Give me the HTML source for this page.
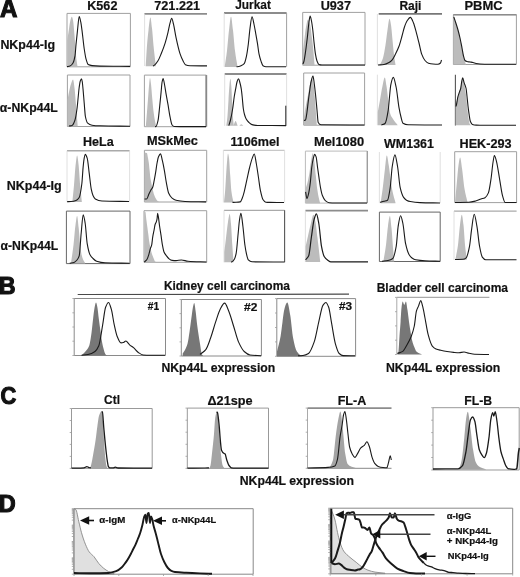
<!DOCTYPE html>
<html><head><meta charset="utf-8"><style>
html,body{margin:0;padding:0;background:#fff;}
svg{display:block;will-change:transform;}
text{font-family:"Liberation Sans",sans-serif;font-weight:bold;stroke:#111;stroke-width:0.2px;paint-order:stroke;}
</style></head><body>
<svg width="520" height="577" viewBox="0 0 520 577">
<rect width="520" height="577" fill="#fff"/>
<line x1="67" y1="13.4" x2="130.4" y2="13.4" stroke="#a0a0a0" stroke-width="1"/>
<line x1="67" y1="66.8" x2="130.4" y2="66.8" stroke="#a0a0a0" stroke-width="1"/>
<line x1="67" y1="13.4" x2="67" y2="66.8" stroke="#a0a0a0" stroke-width="1"/>
<line x1="130.4" y1="13.4" x2="130.4" y2="66.8" stroke="#a0a0a0" stroke-width="1"/>
<line x1="144.4" y1="13.8" x2="207" y2="13.8" stroke="#8c8c8c" stroke-width="1.8"/>
<line x1="144.6" y1="13.8" x2="144.6" y2="66" stroke="#d8d8d8" stroke-width="0.8"/>
<line x1="224" y1="13" x2="286.6" y2="13" stroke="#8c8c8c" stroke-width="1.8"/>
<line x1="286.6" y1="13" x2="286.6" y2="66.8" stroke="#a0a0a0" stroke-width="1"/>
<line x1="224.2" y1="13" x2="224.2" y2="66.8" stroke="#d8d8d8" stroke-width="0.8"/>
<line x1="302.7" y1="12.4" x2="365" y2="12.4" stroke="#a0a0a0" stroke-width="1"/>
<line x1="302.7" y1="65.2" x2="365" y2="65.2" stroke="#a0a0a0" stroke-width="1"/>
<line x1="302.7" y1="12.4" x2="302.7" y2="65.2" stroke="#a0a0a0" stroke-width="1"/>
<line x1="365" y1="12.4" x2="365" y2="65.2" stroke="#a0a0a0" stroke-width="1"/>
<line x1="378.7" y1="13.8" x2="442" y2="13.8" stroke="#777" stroke-width="1.8"/>
<line x1="377.4" y1="14" x2="377.4" y2="65.2" stroke="#d8d8d8" stroke-width="0.8"/>
<line x1="453.4" y1="14.7" x2="516.4" y2="14.7" stroke="#a0a0a0" stroke-width="1"/>
<line x1="453.4" y1="64.5" x2="516.4" y2="64.5" stroke="#a0a0a0" stroke-width="1"/>
<line x1="453.4" y1="14.7" x2="453.4" y2="64.5" stroke="#a0a0a0" stroke-width="1"/>
<line x1="516.4" y1="14.7" x2="516.4" y2="64.5" stroke="#a0a0a0" stroke-width="1"/>
<line x1="453.4" y1="14.7" x2="516.4" y2="14.7" stroke="#8c8c8c" stroke-width="1.6"/>
<path d="M67.20,40.51 C67.63,37.79 68.07,35.18 68.50,32.36 C69.00,29.10 69.50,24.27 70.00,22.16 C70.60,19.64 71.20,16.76 71.80,16.76 C72.20,16.76 72.60,18.40 73.00,20.13 C73.50,22.28 74.00,29.59 74.50,35.41 C75.00,41.24 75.50,51.12 76.00,55.80 C76.50,60.47 77.00,62.93 77.50,66.50 L77.50,66.90 L67.20,66.90 Z" fill="#bcbcbc"/>
<path d="M67.00,66.60 C68.00,66.43 69.00,66.38 70.00,66.09 C71.00,65.80 72.00,64.68 73.00,63.03 C73.67,61.93 74.33,59.71 75.00,55.88 C75.33,53.96 75.67,48.10 76.00,44.65 C76.50,39.46 77.00,34.74 77.50,30.35 C78.07,25.38 78.63,16.57 79.20,16.57 C79.73,16.57 80.27,19.67 80.80,22.18 C81.20,24.06 81.60,27.38 82.00,30.35 C82.73,35.80 83.47,43.81 84.20,48.73 C84.80,52.76 85.40,56.80 86.00,58.94 C86.73,61.56 87.47,64.17 88.20,64.56 C89.47,65.22 90.73,65.44 92.00,65.58 C94.67,65.88 97.33,66.03 100.00,66.09 C110.00,66.29 120.00,66.29 130.00,66.40" fill="none" stroke="#1a1a1a" stroke-width="1.1" stroke-linejoin="round"/>
<path d="M145.70,65.80 C146.13,59.03 146.57,50.85 147.00,45.49 C147.50,39.30 148.00,34.33 148.50,30.25 C149.13,25.08 149.77,17.46 150.40,17.46 C150.93,17.46 151.47,23.68 152.00,28.22 C152.50,32.48 153.00,40.44 153.50,45.49 C154.27,53.22 155.03,59.03 155.80,65.80 L155.80,66.20 L145.70,66.20 Z" fill="#bcbcbc"/>
<path d="M153.00,65.90 C153.50,65.63 154.00,65.44 154.50,65.09 C155.67,64.25 156.83,62.66 158.00,60.81 C159.07,59.12 160.13,56.29 161.20,53.69 C162.53,50.44 163.87,47.04 165.20,42.80 C166.13,39.83 167.07,36.19 168.00,32.32 C168.67,29.56 169.33,25.53 170.00,23.16 C170.57,21.15 171.13,18.18 171.70,18.18 C172.30,18.18 172.90,21.75 173.50,24.18 C174.33,27.55 175.17,33.53 176.00,37.41 C177.33,43.60 178.67,49.74 180.00,53.69 C181.00,56.65 182.00,58.91 183.00,60.81 C183.80,62.34 184.60,64.34 185.40,64.68 C186.93,65.33 188.47,65.65 190.00,65.70 C195.67,65.85 201.33,65.83 207.00,65.90" fill="none" stroke="#1a1a1a" stroke-width="1.1" stroke-linejoin="round"/>
<path d="M224.70,66.60 C225.47,61.32 226.23,57.10 227.00,50.77 C227.67,45.27 228.33,35.79 229.00,30.35 C229.67,24.92 230.33,16.78 231.00,16.78 C231.67,16.78 232.33,24.92 233.00,30.35 C233.67,35.79 234.33,45.52 235.00,50.77 C235.83,57.34 236.67,61.32 237.50,66.60 L237.50,67.00 L224.70,67.00 Z" fill="#bcbcbc"/>
<path d="M236.50,66.80 C237.27,66.70 238.03,66.65 238.80,66.50 C239.53,66.35 240.27,66.02 241.00,65.68 C242.07,65.18 243.13,64.82 244.20,63.63 C244.97,62.78 245.73,59.38 246.50,55.96 C247.10,53.28 247.70,48.91 248.30,44.30 C248.87,39.95 249.43,32.42 250.00,28.34 C250.67,23.54 251.33,16.78 252.00,16.78 C252.67,16.78 253.33,21.30 254.00,24.25 C254.57,26.76 255.13,30.22 255.70,33.35 C256.30,36.68 256.90,39.94 257.50,43.69 C258.00,46.81 258.50,51.53 259.00,53.91 C259.67,57.09 260.33,59.21 261.00,61.07 C261.67,62.94 262.33,65.26 263.00,65.68 C264.00,66.30 265.00,66.70 266.00,66.70 C272.67,66.70 279.33,66.70 286.00,66.70" fill="none" stroke="#1a1a1a" stroke-width="1.1" stroke-linejoin="round"/>
<path d="M303.00,50.00 C303.50,46.00 304.00,41.83 304.50,38.00 C305.00,34.17 305.50,29.54 306.00,27.00 C306.67,23.61 307.33,19.40 308.00,19.40 C308.67,19.40 309.33,21.69 310.00,24.00 C310.67,26.31 311.33,32.63 312.00,38.00 C312.50,42.03 313.00,46.55 313.50,52.00 C313.83,55.64 314.17,60.53 314.50,64.80 L314.50,65.00 L303.00,65.00 Z" fill="#bcbcbc"/>
<path d="M303.00,64.00 C303.33,63.00 303.67,62.30 304.00,61.00 C304.50,59.04 305.00,55.39 305.50,52.00 C306.13,47.70 306.77,42.44 307.40,37.00 C307.93,32.42 308.47,25.62 309.00,22.00 C309.37,19.51 309.73,16.00 310.10,16.00 C310.57,16.00 311.03,18.79 311.50,21.00 C311.93,23.05 312.37,26.45 312.80,30.00 C313.20,33.28 313.60,38.37 314.00,42.00 C314.50,46.54 315.00,51.53 315.50,54.40 C316.00,57.27 316.50,59.68 317.00,61.00 C317.63,62.67 318.27,64.30 318.90,64.50 C319.93,64.83 320.97,65.00 322.00,65.00 C336.33,65.00 350.67,65.00 365.00,65.00" fill="none" stroke="#1a1a1a" stroke-width="1.1" stroke-linejoin="round"/>
<path d="M380.00,64.80 C381.00,62.53 382.00,61.20 383.00,58.00 C383.83,55.34 384.67,50.15 385.50,45.00 C386.17,40.88 386.83,34.30 387.50,30.00 C388.17,25.70 388.83,18.70 389.50,18.70 C390.00,18.70 390.50,22.04 391.00,25.00 C391.50,27.96 392.00,35.00 392.50,40.00 C393.00,45.00 393.50,51.05 394.00,55.00 C394.50,58.95 395.00,61.53 395.50,64.80 L395.50,65.00 L380.00,65.00 Z" fill="#bcbcbc"/>
<path d="M378.00,65.00 C380.00,64.83 382.00,64.78 384.00,64.50 C385.67,64.27 387.33,63.43 389.00,62.50 C390.07,61.91 391.13,61.01 392.20,59.80 C393.30,58.55 394.40,56.15 395.50,54.00 C396.67,51.72 397.83,49.45 399.00,46.30 C400.00,43.60 401.00,39.57 402.00,36.00 C402.77,33.27 403.53,29.75 404.30,27.50 C405.20,24.86 406.10,22.34 407.00,21.00 C408.13,19.31 409.27,17.40 410.40,17.40 C411.43,17.40 412.47,20.55 413.50,23.00 C414.47,25.29 415.43,29.38 416.40,32.90 C417.27,36.05 418.13,39.56 419.00,43.00 C419.93,46.71 420.87,51.96 421.80,54.40 C422.87,57.19 423.93,59.32 425.00,60.50 C426.17,61.79 427.33,62.85 428.50,63.20 C430.00,63.65 431.50,63.90 433.00,64.00 C434.67,64.11 436.33,64.20 438.00,64.20 C438.83,64.20 439.67,63.77 440.50,63.00 C440.83,62.69 441.17,61.00 441.50,60.00" fill="none" stroke="#1a1a1a" stroke-width="1.1" stroke-linejoin="round"/>
<path d="M453.60,17.00 C454.23,18.67 454.87,20.18 455.50,22.00 C456.33,24.40 457.17,27.02 458.00,30.00 C458.67,32.38 459.33,35.04 460.00,38.00 C460.67,40.96 461.33,44.55 462.00,48.00 C462.50,50.58 463.00,53.71 463.50,56.00 C464.00,58.29 464.50,60.57 465.00,62.00 C465.33,62.96 465.67,63.53 466.00,64.30 L466.00,64.50 L453.60,64.50 Z" fill="#bcbcbc"/>
<path d="M453.80,17.00 C454.37,18.67 454.93,20.27 455.50,22.00 C456.33,24.55 457.17,27.02 458.00,30.00 C458.67,32.38 459.33,35.04 460.00,38.00 C460.67,40.96 461.33,44.55 462.00,48.00 C462.50,50.58 463.00,54.08 463.50,56.00 C464.00,57.92 464.50,60.06 465.00,60.50 C465.67,61.09 466.33,61.33 467.00,61.50 C468.00,61.76 469.00,61.83 470.00,62.00 C471.00,62.17 472.00,62.28 473.00,62.50 C474.00,62.72 475.00,63.31 476.00,63.50 C477.33,63.75 478.67,63.95 480.00,64.00 C483.33,64.13 486.67,64.18 490.00,64.20 C498.67,64.26 507.33,64.27 516.00,64.30" fill="none" stroke="#1a1a1a" stroke-width="1.1" stroke-linejoin="round"/>
<line x1="67.4" y1="75" x2="130" y2="75" stroke="#a0a0a0" stroke-width="1"/>
<line x1="67.4" y1="126.5" x2="130" y2="126.5" stroke="#a0a0a0" stroke-width="1"/>
<line x1="67.4" y1="75" x2="67.4" y2="126.5" stroke="#a0a0a0" stroke-width="1"/>
<line x1="130" y1="75" x2="130" y2="126.5" stroke="#a0a0a0" stroke-width="1"/>
<line x1="144.4" y1="75.1" x2="206.3" y2="75.1" stroke="#a0a0a0" stroke-width="1"/>
<line x1="144.4" y1="126.7" x2="206.3" y2="126.7" stroke="#a0a0a0" stroke-width="1"/>
<line x1="144.4" y1="75.1" x2="144.4" y2="126.7" stroke="#a0a0a0" stroke-width="1"/>
<line x1="206.3" y1="75.1" x2="206.3" y2="126.7" stroke="#a0a0a0" stroke-width="1"/>
<line x1="206.3" y1="75.1" x2="206.3" y2="126.7" stroke="#888" stroke-width="1.8"/>
<line x1="224.7" y1="74" x2="286.6" y2="74" stroke="#8c8c8c" stroke-width="1.8"/>
<line x1="286.6" y1="74" x2="286.6" y2="125.9" stroke="#d8d8d8" stroke-width="0.8"/>
<line x1="224.7" y1="74" x2="224.7" y2="125.9" stroke="#d8d8d8" stroke-width="0.8"/>
<line x1="303.7" y1="73" x2="364.6" y2="73" stroke="#a0a0a0" stroke-width="1"/>
<line x1="303.7" y1="125.2" x2="364.6" y2="125.2" stroke="#a0a0a0" stroke-width="1"/>
<line x1="303.7" y1="73" x2="303.7" y2="125.2" stroke="#a0a0a0" stroke-width="1"/>
<line x1="364.6" y1="73" x2="364.6" y2="125.2" stroke="#a0a0a0" stroke-width="1"/>
<line x1="377.4" y1="74.7" x2="377.4" y2="125.2" stroke="#d8d8d8" stroke-width="0.8"/>
<line x1="455.4" y1="74.7" x2="455.4" y2="125.4" stroke="#555" stroke-width="1.1"/>
<path d="M67.50,100.00 C68.00,97.33 68.50,94.30 69.00,92.00 C69.67,88.93 70.33,85.89 71.00,84.00 C71.67,82.11 72.33,79.60 73.00,79.60 C73.50,79.60 74.00,84.25 74.50,88.00 C75.00,91.75 75.50,99.09 76.00,105.00 C76.57,111.69 77.13,119.00 77.70,126.00 L77.70,126.30 L67.50,126.30 Z" fill="#bcbcbc"/>
<path d="M69.00,126.00 C70.00,125.83 71.00,125.81 72.00,125.50 C73.00,125.19 74.00,122.86 75.00,120.00 C75.67,118.09 76.33,113.67 77.00,108.80 C77.40,105.88 77.80,100.91 78.20,97.00 C78.53,93.75 78.87,89.71 79.20,87.30 C79.57,84.65 79.93,82.03 80.30,81.00 C80.70,79.88 81.10,78.80 81.50,78.80 C81.77,78.80 82.03,80.47 82.30,82.00 C82.53,83.33 82.77,86.33 83.00,88.80 C83.40,93.03 83.80,98.39 84.20,103.00 C84.60,107.61 85.00,114.53 85.40,116.50 C86.17,120.28 86.93,122.54 87.70,123.20 C89.13,124.44 90.57,125.00 92.00,125.20 C94.67,125.57 97.33,125.72 100.00,125.80 C110.00,126.11 120.00,126.13 130.00,126.30" fill="none" stroke="#1a1a1a" stroke-width="1.1" stroke-linejoin="round"/>
<path d="M145.80,126.50 C146.20,121.67 146.60,117.02 147.00,112.00 C147.43,106.56 147.87,100.46 148.30,95.00 C148.60,91.22 148.90,86.78 149.20,84.00 C149.47,81.53 149.73,78.00 150.00,78.00 C150.33,78.00 150.67,81.38 151.00,84.00 C151.40,87.14 151.80,93.68 152.20,98.00 C152.67,103.04 153.13,108.35 153.60,112.00 C154.07,115.65 154.53,118.62 155.00,121.00 C155.43,123.21 155.87,124.67 156.30,126.50 L156.30,126.60 L145.80,126.60 Z" fill="#bcbcbc"/>
<path d="M155.00,126.60 C155.33,126.57 155.67,126.56 156.00,126.50 C156.70,126.38 157.40,123.41 158.10,120.20 C158.60,117.91 159.10,111.86 159.60,107.20 C160.10,102.54 160.60,97.14 161.10,92.10 C161.43,88.74 161.77,83.73 162.10,82.00 C162.43,80.27 162.77,78.50 163.10,78.50 C163.60,78.50 164.10,82.47 164.60,85.00 C165.10,87.53 165.60,91.20 166.10,94.10 C166.77,97.97 167.43,101.36 168.10,105.20 C168.77,109.04 169.43,114.05 170.10,117.20 C170.77,120.35 171.43,124.19 172.10,125.00 C172.80,125.85 173.50,126.47 174.20,126.50 C176.13,126.58 178.07,126.60 180.00,126.60 C188.67,126.60 197.33,126.60 206.00,126.60" fill="none" stroke="#1a1a1a" stroke-width="1.1" stroke-linejoin="round"/>
<path d="M226.30,125.60 C226.67,122.73 227.03,120.81 227.40,117.00 C227.77,113.19 228.13,105.58 228.50,100.00 C228.83,94.93 229.17,88.16 229.50,85.00 C229.80,82.15 230.10,78.70 230.40,78.70 C230.70,78.70 231.00,82.54 231.30,86.00 C231.60,89.46 231.90,98.41 232.20,104.00 C232.47,108.97 232.73,114.72 233.00,118.00 C233.27,121.28 233.53,123.07 233.80,125.60 L233.80,125.70 L226.30,125.70 Z" fill="#bcbcbc"/>
<path d="M233.50,125.60 C234.20,124.07 234.90,121.00 235.60,121.00 C236.27,121.00 236.93,124.07 237.60,125.60 L237.60,125.70 L233.50,125.70 Z" fill="#bcbcbc"/>
<path d="M239.50,125.60 C240.10,125.17 240.70,124.30 241.30,124.30 C241.93,124.30 242.57,125.17 243.20,125.60 L243.20,125.70 L239.50,125.70 Z" fill="#bcbcbc"/>
<path d="M228.80,125.60 C229.37,123.73 229.93,122.27 230.50,120.00 C231.23,117.06 231.97,113.11 232.70,108.50 C233.20,105.35 233.70,100.22 234.20,97.00 C234.67,93.99 235.13,91.70 235.60,89.20 C236.07,86.70 236.53,83.44 237.00,82.00 C237.50,80.45 238.00,78.70 238.50,78.70 C239.00,78.70 239.50,81.20 240.00,83.00 C240.43,84.56 240.87,86.48 241.30,89.20 C241.63,91.29 241.97,94.81 242.30,98.00 C242.63,101.19 242.97,106.22 243.30,108.50 C243.70,111.24 244.10,113.09 244.50,114.50 C245.07,116.50 245.63,118.01 246.20,119.00 C247.13,120.63 248.07,121.66 249.00,122.50 C250.00,123.40 251.00,124.32 252.00,124.60 C253.90,125.12 255.80,125.48 257.70,125.50 C267.13,125.58 276.57,125.57 286.00,125.60" fill="none" stroke="#1a1a1a" stroke-width="1.1" stroke-linejoin="round"/>
<line x1="285.8" y1="105.7" x2="285.8" y2="125.9" stroke="#222" stroke-width="1.0"/>
<path d="M304.00,117.00 C304.67,113.00 305.33,108.64 306.00,105.00 C306.67,101.36 307.33,98.49 308.00,95.00 C308.67,91.51 309.33,86.51 310.00,84.00 C310.70,81.36 311.40,78.00 312.10,78.00 C312.57,78.00 313.03,81.16 313.50,84.00 C314.00,87.04 314.50,94.01 315.00,100.00 C315.60,107.19 316.20,116.53 316.80,124.80 L316.80,125.00 L304.00,125.00 Z" fill="#bcbcbc"/>
<path d="M304.00,120.50 C304.50,120.33 305.00,120.31 305.50,120.00 C306.00,119.69 306.50,115.31 307.00,112.00 C307.33,109.79 307.67,106.29 308.00,103.60 C308.50,99.56 309.00,95.58 309.50,92.00 C310.00,88.42 310.50,84.11 311.00,82.00 C311.67,79.19 312.33,76.00 313.00,76.00 C313.43,76.00 313.87,80.90 314.30,84.00 C314.70,86.86 315.10,90.45 315.50,94.20 C316.00,98.89 316.50,104.76 317.00,110.00 C317.40,114.19 317.80,121.81 318.20,122.50 C319.13,124.10 320.07,124.79 321.00,124.80 C335.50,124.99 350.00,124.93 364.50,125.00" fill="none" stroke="#1a1a1a" stroke-width="1.1" stroke-linejoin="round"/>
<path d="M377.80,112.00 C378.53,108.00 379.27,104.05 380.00,100.00 C380.83,95.40 381.67,89.73 382.50,86.00 C383.27,82.57 384.03,77.40 384.80,77.40 C385.37,77.40 385.93,82.51 386.50,86.00 C387.17,90.11 387.83,96.91 388.50,102.00 C389.00,105.82 389.50,111.32 390.00,113.00 C391.00,116.36 392.00,117.40 393.00,119.00 C394.53,121.46 396.07,123.00 397.60,125.00 L397.60,125.20 L377.80,125.20 Z" fill="#bcbcbc"/>
<path d="M381.40,125.00 C382.60,124.50 383.80,124.42 385.00,123.50 C386.07,122.68 387.13,117.05 388.20,110.40 C388.63,107.70 389.07,101.26 389.50,97.00 C389.93,92.74 390.37,86.86 390.80,84.80 C391.63,80.83 392.47,77.40 393.30,77.40 C394.27,77.40 395.23,82.95 396.20,87.50 C397.13,91.89 398.07,102.48 399.00,107.70 C399.67,111.43 400.33,114.52 401.00,117.00 C401.67,119.48 402.33,122.76 403.00,123.20 C404.67,124.29 406.33,124.77 408.00,124.80 C419.33,124.97 430.67,124.93 442.00,125.00" fill="none" stroke="#1a1a1a" stroke-width="1.1" stroke-linejoin="round"/>
<path d="M455.60,106.00 C456.23,103.33 456.87,100.29 457.50,98.00 C458.13,95.71 458.77,94.33 459.40,92.00 C459.93,90.03 460.47,86.88 461.00,85.00 C461.57,83.00 462.13,80.00 462.70,80.00 C463.30,80.00 463.90,83.41 464.50,86.00 C465.00,88.16 465.50,91.23 466.00,95.00 C466.43,98.27 466.87,104.07 467.30,108.00 C467.70,111.63 468.10,115.61 468.50,118.00 C468.93,120.58 469.37,123.29 469.80,124.00 C470.20,124.65 470.60,124.80 471.00,125.20 L471.00,125.30 L455.60,125.30 Z" fill="#bcbcbc"/>
<path d="M455.80,106.50 C456.00,106.00 456.20,105.66 456.40,105.00 C456.87,103.47 457.33,99.10 457.80,97.20 C458.30,95.16 458.80,93.89 459.30,92.40 C459.77,91.01 460.23,90.39 460.70,88.50 C461.03,87.15 461.37,83.35 461.70,81.70 C462.03,80.05 462.37,77.80 462.70,77.80 C463.17,77.80 463.63,81.27 464.10,82.70 C464.50,83.93 464.90,84.82 465.30,86.00 C465.57,86.78 465.83,87.29 466.10,88.50 C466.40,89.87 466.70,93.56 467.00,96.30 C467.33,99.35 467.67,103.14 468.00,106.00 C468.33,108.86 468.67,111.53 469.00,113.70 C469.47,116.74 469.93,120.39 470.40,121.50 C471.07,123.09 471.73,124.17 472.40,124.40 C473.70,124.85 475.00,125.04 476.30,125.10 C477.53,125.16 478.77,125.19 480.00,125.20 C486.67,125.27 493.33,125.30 500.00,125.30 C505.33,125.30 510.67,125.30 516.00,125.30" fill="none" stroke="#1a1a1a" stroke-width="1.1" stroke-linejoin="round"/>
<line x1="67" y1="150.7" x2="129.6" y2="150.7" stroke="#aaa" stroke-width="1.4"/>
<line x1="129.6" y1="150.7" x2="129.6" y2="201.8" stroke="#d8d8d8" stroke-width="0.8"/>
<line x1="67" y1="150.7" x2="67" y2="201.8" stroke="#d8d8d8" stroke-width="0.8"/>
<line x1="144.4" y1="150.3" x2="206.7" y2="150.3" stroke="#a0a0a0" stroke-width="1"/>
<line x1="144.4" y1="202" x2="206.7" y2="202" stroke="#a0a0a0" stroke-width="1"/>
<line x1="144.4" y1="150.3" x2="144.4" y2="202" stroke="#a0a0a0" stroke-width="1"/>
<line x1="206.7" y1="150.3" x2="206.7" y2="202" stroke="#a0a0a0" stroke-width="1"/>
<line x1="223.4" y1="150.3" x2="284.6" y2="150.3" stroke="#bbb" stroke-width="1"/>
<line x1="223.4" y1="150.3" x2="223.4" y2="202.5" stroke="#d8d8d8" stroke-width="0.8"/>
<line x1="284.6" y1="150.3" x2="284.6" y2="202.5" stroke="#d8d8d8" stroke-width="0.8"/>
<line x1="305.4" y1="151.1" x2="367.3" y2="151.1" stroke="#bbb" stroke-width="1"/>
<line x1="305.4" y1="203.1" x2="367.3" y2="203.1" stroke="#bbb" stroke-width="1"/>
<line x1="305.4" y1="151.1" x2="305.4" y2="203.1" stroke="#bbb" stroke-width="1"/>
<line x1="367.3" y1="151.1" x2="367.3" y2="203.1" stroke="#bbb" stroke-width="1"/>
<line x1="367.3" y1="151.1" x2="367.3" y2="203.1" stroke="#999" stroke-width="1.2"/>
<line x1="379.4" y1="152" x2="379.4" y2="203.1" stroke="#d8d8d8" stroke-width="0.8"/>
<line x1="440.2" y1="152" x2="440.2" y2="203.1" stroke="#d8d8d8" stroke-width="0.8"/>
<line x1="454.7" y1="151.7" x2="516.6" y2="151.7" stroke="#a0a0a0" stroke-width="1"/>
<line x1="454.7" y1="202.6" x2="516.6" y2="202.6" stroke="#a0a0a0" stroke-width="1"/>
<line x1="454.7" y1="151.7" x2="454.7" y2="202.6" stroke="#a0a0a0" stroke-width="1"/>
<line x1="516.6" y1="151.7" x2="516.6" y2="202.6" stroke="#a0a0a0" stroke-width="1"/>
<path d="M72.40,201.50 C72.93,196.07 73.47,191.20 74.00,185.20 C74.53,179.20 75.07,169.61 75.60,165.08 C76.10,160.84 76.60,155.43 77.10,155.43 C77.60,155.43 78.10,160.84 78.60,165.08 C79.13,169.61 79.67,179.20 80.20,185.20 C80.73,191.20 81.27,196.07 81.80,201.50 L81.80,201.90 L72.40,201.90 Z" fill="#bcbcbc"/>
<path d="M67.00,201.70 C68.33,201.63 69.67,201.60 71.00,201.50 C72.67,201.37 74.33,201.07 76.00,200.49 C77.07,200.12 78.13,199.26 79.20,197.56 C80.07,196.18 80.93,190.69 81.80,184.03 C82.27,180.44 82.73,170.97 83.20,166.35 C83.53,163.06 83.87,159.79 84.20,158.07 C84.53,156.35 84.87,154.33 85.20,154.33 C85.87,154.33 86.53,156.13 87.20,158.17 C87.87,160.21 88.53,168.05 89.20,173.12 C89.90,178.44 90.60,186.01 91.30,189.38 C91.87,192.11 92.43,194.20 93.00,195.44 C93.77,197.12 94.53,198.54 95.30,198.97 C97.53,200.24 99.77,200.90 102.00,200.99 C111.00,201.38 120.00,201.33 129.00,201.50" fill="none" stroke="#1a1a1a" stroke-width="1.1" stroke-linejoin="round"/>
<path d="M144.60,152.51 C145.37,152.68 146.13,152.66 146.90,153.02 C147.27,153.19 147.63,156.18 148.00,158.07 C148.27,159.45 148.53,160.81 148.80,162.72 C149.07,164.62 149.33,167.58 149.60,170.19 C149.83,172.47 150.07,175.67 150.30,177.36 C150.60,179.53 150.90,180.76 151.20,182.31 C151.53,184.03 151.87,185.65 152.20,187.16 C152.53,188.66 152.87,190.09 153.20,191.40 C153.53,192.70 153.87,194.11 154.20,195.03 C154.73,196.50 155.27,197.58 155.80,198.47 C156.40,199.46 157.00,200.37 157.60,200.89 C158.07,201.29 158.53,201.50 159.00,201.80 L159.00,202.10 L144.60,202.10 Z" fill="#bcbcbc"/>
<path d="M144.60,199.16 C145.37,198.99 146.13,198.97 146.90,198.66 C147.53,198.39 148.17,195.55 148.80,194.19 C149.47,192.76 150.13,191.40 150.80,190.24 C151.43,189.14 152.07,188.79 152.70,187.30 C153.20,186.12 153.70,182.93 154.20,180.40 C154.67,178.05 155.13,175.41 155.60,172.60 C156.10,169.59 156.60,165.34 157.10,162.76 C157.57,160.35 158.03,157.83 158.50,156.78 C159.17,155.28 159.83,153.84 160.50,153.84 C161.13,153.84 161.77,158.09 162.40,160.73 C163.07,163.51 163.73,166.90 164.40,170.57 C165.03,174.06 165.67,179.09 166.30,182.43 C167.10,186.65 167.90,191.49 168.70,193.28 C169.83,195.82 170.97,197.24 172.10,198.15 C173.40,199.19 174.70,199.97 176.00,200.28 C179.00,200.98 182.00,201.38 185.00,201.49 C192.00,201.76 199.00,201.76 206.00,201.90" fill="none" stroke="#1a1a1a" stroke-width="1.1" stroke-linejoin="round"/>
<path d="M224.00,202.40 C224.40,198.27 224.80,195.08 225.20,190.00 C225.57,185.34 225.93,177.37 226.30,172.00 C226.60,167.61 226.90,162.99 227.20,160.00 C227.47,157.35 227.73,153.60 228.00,153.60 C228.33,153.60 228.67,155.80 229.00,158.00 C229.40,160.64 229.80,169.56 230.20,175.00 C230.63,180.90 231.07,188.67 231.50,192.00 C232.17,197.12 232.83,198.93 233.50,202.40 L233.50,202.50 L224.00,202.50 Z" fill="#bcbcbc"/>
<path d="M232.50,202.40 C233.67,202.37 234.83,202.35 236.00,202.30 C237.40,202.24 238.80,202.18 240.20,201.90 C240.90,201.76 241.60,199.66 242.30,198.00 C242.93,196.49 243.57,194.18 244.20,191.80 C245.10,188.42 246.00,183.65 246.90,179.60 C247.80,175.55 248.70,171.03 249.60,167.50 C250.50,163.97 251.40,160.39 252.30,158.10 C252.97,156.40 253.63,154.00 254.30,154.00 C254.97,154.00 255.63,159.86 256.30,163.50 C257.00,167.32 257.70,172.41 258.40,177.00 C259.07,181.38 259.73,187.30 260.40,190.40 C261.30,194.59 262.20,198.53 263.10,199.80 C264.00,201.07 264.90,202.11 265.80,202.20 C267.20,202.34 268.60,202.38 270.00,202.40 C274.67,202.47 279.33,202.47 284.00,202.50" fill="none" stroke="#1a1a1a" stroke-width="1.1" stroke-linejoin="round"/>
<path d="M305.60,188.73 C306.23,186.69 306.87,185.10 307.50,182.61 C308.17,179.98 308.83,176.41 309.50,172.41 C310.07,169.01 310.63,163.32 311.20,160.18 C311.70,157.40 312.20,153.35 312.70,153.35 C313.20,153.35 313.70,157.10 314.20,160.18 C314.73,163.45 315.27,170.40 315.80,175.47 C316.27,179.91 316.73,185.36 317.20,188.73 C317.67,192.09 318.13,194.60 318.60,196.88 C319.07,199.17 319.53,200.82 320.00,202.80 L320.00,203.20 L305.60,203.20 Z" fill="#bcbcbc"/>
<path d="M305.60,191.86 C306.03,194.08 306.47,198.50 306.90,198.50 C307.53,198.50 308.17,195.30 308.80,192.58 C309.30,190.43 309.80,186.76 310.30,182.67 C310.77,178.85 311.23,171.32 311.70,167.75 C312.20,163.93 312.70,160.86 313.20,158.87 C313.70,156.88 314.20,154.37 314.70,154.37 C315.17,154.37 315.63,155.51 316.10,156.82 C316.60,158.23 317.10,164.16 317.60,167.75 C318.07,171.11 318.53,174.47 319.00,177.66 C319.50,181.08 320.00,184.99 320.50,187.57 C321.13,190.85 321.77,193.95 322.40,195.54 C323.37,197.98 324.33,199.72 325.30,200.55 C326.60,201.66 327.90,202.56 329.20,202.69 C331.13,202.89 333.07,203.00 335.00,203.00 C345.67,203.00 356.33,203.00 367.00,203.00" fill="none" stroke="#1a1a1a" stroke-width="1.1" stroke-linejoin="round"/>
<path d="M380.70,202.79 C381.47,197.22 382.23,192.19 383.00,186.08 C383.67,180.77 384.33,173.81 385.00,168.54 C385.60,163.80 386.20,155.54 386.80,155.54 C387.47,155.54 388.13,161.42 388.80,165.44 C389.47,169.47 390.13,176.40 390.80,180.92 C391.37,184.76 391.93,188.51 392.50,191.24 C393.50,196.05 394.50,198.94 395.50,202.79 L395.50,203.20 L380.70,203.20 Z" fill="#bcbcbc"/>
<path d="M380.00,202.27 C381.33,201.93 382.67,201.61 384.00,201.24 C385.17,200.92 386.33,200.88 387.50,200.20 C388.40,199.68 389.30,193.57 390.20,187.67 C390.87,183.30 391.53,170.97 392.20,166.75 C393.10,161.04 394.00,154.83 394.90,154.83 C395.80,154.83 396.70,161.61 397.60,166.75 C398.47,171.69 399.33,183.93 400.20,187.67 C401.33,192.56 402.47,195.79 403.60,197.41 C404.57,198.78 405.53,199.69 406.50,200.20 C407.77,200.87 409.03,201.32 410.30,201.55 C413.53,202.13 416.77,202.46 420.00,202.59 C426.67,202.84 433.33,202.86 440.00,203.00" fill="none" stroke="#1a1a1a" stroke-width="1.1" stroke-linejoin="round"/>
<path d="M455.00,202.30 C455.67,195.07 456.33,187.63 457.00,180.63 C457.50,175.38 458.00,168.61 458.50,165.31 C459.03,161.78 459.57,157.54 460.10,157.54 C460.73,157.54 461.37,164.15 462.00,168.37 C462.83,173.92 463.67,183.93 464.50,188.81 C465.50,194.66 466.50,197.80 467.50,202.30 L467.50,202.70 L455.00,202.70 Z" fill="#bcbcbc"/>
<path d="M455.00,202.50 C459.60,202.43 464.20,202.43 468.80,202.29 C471.07,202.23 473.33,201.63 475.60,201.06 C477.40,200.62 479.20,199.65 481.00,199.01 C482.33,198.54 483.67,198.41 485.00,197.68 C486.13,197.06 487.27,195.46 488.40,192.86 C489.27,190.86 490.13,184.67 491.00,179.01 C491.67,174.65 492.33,166.57 493.00,162.49 C493.47,159.63 493.93,155.51 494.40,155.51 C495.07,155.51 495.73,158.64 496.40,161.05 C497.53,165.15 498.67,173.92 499.80,180.34 C500.70,185.44 501.60,192.47 502.50,195.63 C503.40,198.79 504.30,202.50 505.20,202.50 C508.97,202.50 512.73,202.50 516.50,202.50" fill="none" stroke="#1a1a1a" stroke-width="1.1" stroke-linejoin="round"/>
<line x1="66.4" y1="211.1" x2="130" y2="211.1" stroke="#666" stroke-width="1"/>
<line x1="66.4" y1="263.6" x2="130" y2="263.6" stroke="#666" stroke-width="1"/>
<line x1="66.4" y1="211.1" x2="66.4" y2="263.6" stroke="#666" stroke-width="1"/>
<line x1="130" y1="211.1" x2="130" y2="263.6" stroke="#666" stroke-width="1"/>
<line x1="144" y1="210.7" x2="206.7" y2="210.7" stroke="#a0a0a0" stroke-width="1"/>
<line x1="144" y1="262.3" x2="206.7" y2="262.3" stroke="#a0a0a0" stroke-width="1"/>
<line x1="144" y1="210.7" x2="144" y2="262.3" stroke="#a0a0a0" stroke-width="1"/>
<line x1="206.7" y1="210.7" x2="206.7" y2="262.3" stroke="#a0a0a0" stroke-width="1"/>
<line x1="224" y1="210.3" x2="284.6" y2="210.3" stroke="#aaa" stroke-width="1.2"/>
<line x1="284.6" y1="210.3" x2="284.6" y2="262.3" stroke="#555" stroke-width="1.1"/>
<line x1="224" y1="210.3" x2="224" y2="262.3" stroke="#d8d8d8" stroke-width="0.8"/>
<line x1="305.4" y1="210.7" x2="368" y2="210.7" stroke="#8c8c8c" stroke-width="1.8"/>
<line x1="305.4" y1="210.7" x2="305.4" y2="262" stroke="#d8d8d8" stroke-width="0.8"/>
<line x1="379.4" y1="212.1" x2="440.2" y2="212.1" stroke="#666" stroke-width="1"/>
<line x1="379.4" y1="261.5" x2="440.2" y2="261.5" stroke="#666" stroke-width="1"/>
<line x1="379.4" y1="212.1" x2="379.4" y2="261.5" stroke="#666" stroke-width="1"/>
<line x1="440.2" y1="212.1" x2="440.2" y2="261.5" stroke="#666" stroke-width="1"/>
<line x1="454" y1="211.1" x2="516.6" y2="211.1" stroke="#aaa" stroke-width="1.4"/>
<line x1="454" y1="211.1" x2="454" y2="260" stroke="#d8d8d8" stroke-width="0.8"/>
<path d="M71.00,263.20 C71.83,257.13 72.67,252.06 73.50,245.00 C74.17,239.35 74.83,229.72 75.50,225.00 C76.03,221.23 76.57,216.10 77.10,216.10 C77.63,216.10 78.17,223.27 78.70,228.00 C79.30,233.33 79.90,243.83 80.50,248.00 C81.17,252.63 81.83,256.10 82.50,258.00 C83.40,260.56 84.30,261.47 85.20,263.20 L85.20,263.40 L71.00,263.40 Z" fill="#bcbcbc"/>
<path d="M69.70,263.20 C71.13,262.97 72.57,262.91 74.00,262.50 C75.00,262.22 76.00,261.18 77.00,260.00 C77.73,259.13 78.47,258.23 79.20,255.80 C79.87,253.59 80.53,239.77 81.20,233.00 C81.87,226.23 82.53,214.70 83.20,214.70 C83.87,214.70 84.53,219.41 85.20,223.50 C85.87,227.59 86.53,239.80 87.20,243.70 C88.10,248.97 89.00,252.72 89.90,254.50 C90.93,256.54 91.97,257.51 93.00,258.50 C94.20,259.65 95.40,260.80 96.60,261.20 C99.40,262.12 102.20,262.70 105.00,262.80 C113.17,263.08 121.33,263.07 129.50,263.20" fill="none" stroke="#1a1a1a" stroke-width="1.1" stroke-linejoin="round"/>
<path d="M144.20,211.50 C144.60,211.67 145.00,211.67 145.40,212.00 C145.73,212.27 146.07,217.44 146.40,220.00 C146.73,222.56 147.07,224.90 147.40,227.40 C147.73,229.90 148.07,232.44 148.40,235.00 C148.70,237.31 149.00,240.17 149.30,242.00 C149.63,244.04 149.97,245.38 150.30,247.00 C150.63,248.62 150.97,250.43 151.30,251.70 C151.70,253.22 152.10,254.38 152.50,255.50 C152.90,256.62 153.30,257.59 153.70,258.50 C154.17,259.56 154.63,260.95 155.10,261.40 C155.40,261.69 155.70,261.80 156.00,262.00 L156.00,262.20 L144.20,262.20 Z" fill="#bcbcbc"/>
<path d="M144.30,262.00 C145.17,261.17 146.03,260.74 146.90,259.50 C147.53,258.59 148.17,256.58 148.80,254.60 C149.30,253.04 149.80,250.42 150.30,248.80 C150.77,247.29 151.23,246.87 151.70,244.90 C152.03,243.49 152.37,239.19 152.70,237.10 C153.20,233.96 153.70,232.05 154.20,229.40 C154.50,227.81 154.80,225.47 155.10,224.50 C155.53,223.09 155.97,222.90 156.40,221.60 C156.63,220.90 156.87,220.13 157.10,218.70 C157.27,217.68 157.43,213.30 157.60,213.30 C157.90,213.30 158.20,215.90 158.50,217.70 C158.83,219.70 159.17,223.13 159.50,225.50 C160.00,229.06 160.50,231.85 161.00,235.20 C161.47,238.32 161.93,242.34 162.40,244.90 C162.90,247.65 163.40,250.46 163.90,251.70 C164.70,253.69 165.50,254.49 166.30,255.60 C167.10,256.71 167.90,257.88 168.70,258.50 C169.83,259.38 170.97,260.29 172.10,260.40 C173.40,260.52 174.70,260.60 176.00,260.60 C177.80,260.60 179.60,260.00 181.40,260.00 C183.60,260.00 185.80,261.03 188.00,261.20 C194.17,261.68 200.33,261.73 206.50,262.00" fill="none" stroke="#1a1a1a" stroke-width="1.1" stroke-linejoin="round"/>
<path d="M224.30,251.80 C224.87,247.20 225.43,242.57 226.00,238.00 C226.67,232.63 227.33,225.89 228.00,222.00 C228.57,218.69 229.13,214.10 229.70,214.10 C230.13,214.10 230.57,219.51 231.00,224.00 C231.43,228.49 231.87,238.46 232.30,245.00 C232.70,251.03 233.10,256.33 233.50,262.00 L233.50,262.20 L224.30,262.20 Z" fill="#bcbcbc"/>
<path d="M231.00,262.00 C231.33,261.93 231.67,261.90 232.00,261.80 C232.83,261.54 233.67,260.46 234.50,259.00 C235.07,258.01 235.63,255.99 236.20,253.10 C236.87,249.71 237.53,239.68 238.20,233.00 C238.63,228.66 239.07,222.79 239.50,220.00 C239.97,217.00 240.43,213.40 240.90,213.40 C241.57,213.40 242.23,221.12 242.90,226.20 C243.57,231.28 244.23,240.35 244.90,245.00 C245.43,248.72 245.97,251.80 246.50,254.00 C247.10,256.47 247.70,259.19 248.30,259.80 C249.53,261.04 250.77,261.78 252.00,261.80 C262.83,261.98 273.67,261.93 284.50,262.00" fill="none" stroke="#1a1a1a" stroke-width="1.1" stroke-linejoin="round"/>
<path d="M305.60,246.40 C306.40,242.93 307.20,239.49 308.00,236.00 C308.83,232.36 309.67,228.23 310.50,225.00 C311.50,221.13 312.50,214.70 313.50,214.70 C314.17,214.70 314.83,218.66 315.50,222.00 C316.17,225.34 316.83,232.45 317.50,238.00 C318.40,245.49 319.30,253.67 320.20,261.50 L320.20,261.90 L305.60,261.90 Z" fill="#bcbcbc"/>
<path d="M305.60,259.80 C306.63,258.47 307.67,258.09 308.70,255.80 C309.60,253.81 310.50,243.04 311.40,237.00 C312.30,230.96 313.20,222.69 314.10,219.50 C314.87,216.78 315.63,213.80 316.40,213.80 C317.20,213.80 318.00,219.15 318.80,223.50 C319.70,228.39 320.60,241.73 321.50,246.40 C322.40,251.07 323.30,254.98 324.20,256.50 C325.30,258.35 326.40,259.21 327.50,260.00 C328.67,260.84 329.83,261.90 331.00,261.90 C343.33,261.90 355.67,261.90 368.00,261.90" fill="none" stroke="#1a1a1a" stroke-width="1.2" stroke-linejoin="round"/>
<path d="M383.40,261.20 C384.27,255.80 385.13,251.58 386.00,245.00 C386.67,239.94 387.33,230.48 388.00,226.00 C388.63,221.75 389.27,216.10 389.90,216.10 C390.43,216.10 390.97,222.89 391.50,228.00 C392.00,232.79 392.50,241.99 393.00,248.00 C393.40,252.80 393.80,256.80 394.20,261.20 L394.20,261.40 L383.40,261.40 Z" fill="#bcbcbc"/>
<path d="M382.00,261.20 C384.00,260.97 386.00,260.87 388.00,260.50 C389.60,260.20 391.20,259.75 392.80,258.50 C393.93,257.61 395.07,252.62 396.20,246.40 C396.87,242.74 397.53,230.32 398.20,226.20 C399.00,221.26 399.80,215.70 400.60,215.70 C401.37,215.70 402.13,219.96 402.90,223.50 C403.80,227.66 404.70,239.62 405.60,243.70 C406.73,248.83 407.87,252.58 409.00,254.50 C410.00,256.19 411.00,257.30 412.00,258.00 C413.23,258.86 414.47,259.56 415.70,259.80 C418.80,260.40 421.90,260.66 425.00,260.80 C430.00,261.02 435.00,261.07 440.00,261.20" fill="none" stroke="#1a1a1a" stroke-width="1.1" stroke-linejoin="round"/>
<path d="M455.40,259.50 C456.27,254.67 457.13,251.28 458.00,245.00 C458.67,240.17 459.33,229.83 460.00,225.00 C460.60,220.65 461.20,214.70 461.80,214.70 C462.37,214.70 462.93,220.24 463.50,225.00 C464.00,229.20 464.50,239.94 465.00,245.00 C465.60,251.07 466.20,254.67 466.80,259.50 L466.80,259.80 L455.40,259.80 Z" fill="#bcbcbc"/>
<path d="M455.00,259.50 C457.67,259.43 460.33,259.45 463.00,259.30 C464.07,259.24 465.13,258.68 466.20,257.80 C467.30,256.90 468.40,251.91 469.50,246.40 C470.17,243.06 470.83,234.78 471.50,230.20 C472.40,224.01 473.30,214.30 474.20,214.30 C475.10,214.30 476.00,221.21 476.90,226.20 C477.80,231.19 478.70,241.74 479.60,246.40 C480.50,251.06 481.40,255.88 482.30,257.10 C483.43,258.64 484.57,259.80 485.70,259.80 C495.97,259.80 506.23,259.80 516.50,259.80" fill="none" stroke="#1a1a1a" stroke-width="1.1" stroke-linejoin="round"/>
<line x1="77.7" y1="294.5" x2="349" y2="294.2" stroke="#4a4a4a" stroke-width="1.2"/>
<line x1="74.2" y1="298.5" x2="165.5" y2="298.5" stroke="#8a8a8a" stroke-width="1"/>
<line x1="74.2" y1="355.5" x2="165.5" y2="355.5" stroke="#8a8a8a" stroke-width="1"/>
<line x1="74.2" y1="298.5" x2="74.2" y2="355.5" stroke="#8a8a8a" stroke-width="1"/>
<line x1="165.5" y1="298.5" x2="165.5" y2="355.5" stroke="#8a8a8a" stroke-width="1"/>
<line x1="181.3" y1="299.5" x2="261.4" y2="299.5" stroke="#8a8a8a" stroke-width="1"/>
<line x1="181.3" y1="356" x2="261.4" y2="356" stroke="#8a8a8a" stroke-width="1"/>
<line x1="181.3" y1="299.5" x2="181.3" y2="356" stroke="#8a8a8a" stroke-width="1"/>
<line x1="261.4" y1="299.5" x2="261.4" y2="356" stroke="#8a8a8a" stroke-width="1"/>
<line x1="276.8" y1="298.6" x2="355.6" y2="298.6" stroke="#8a8a8a" stroke-width="1"/>
<line x1="276.8" y1="356.3" x2="355.6" y2="356.3" stroke="#8a8a8a" stroke-width="1"/>
<line x1="276.8" y1="298.6" x2="276.8" y2="356.3" stroke="#8a8a8a" stroke-width="1"/>
<line x1="355.6" y1="298.6" x2="355.6" y2="356.3" stroke="#8a8a8a" stroke-width="1"/>
<line x1="396.8" y1="297.4" x2="489.4" y2="297.4" stroke="#aaa" stroke-width="1.4"/>
<line x1="396.8" y1="297.4" x2="396.8" y2="354.5" stroke="#aaa" stroke-width="1"/>
<path d="M81.50,355.20 C82.67,354.13 83.83,353.31 85.00,352.00 C86.40,350.43 87.80,349.26 89.20,345.80 C89.97,343.90 90.73,338.32 91.50,333.00 C92.03,329.30 92.57,323.20 93.10,318.80 C93.57,314.95 94.03,310.33 94.50,308.00 C95.00,305.50 95.50,302.50 96.00,302.50 C96.50,302.50 97.00,305.43 97.50,308.00 C97.93,310.23 98.37,315.39 98.80,318.80 C99.30,322.74 99.80,326.35 100.30,330.00 C100.77,333.41 101.23,337.32 101.70,340.00 C102.30,343.44 102.90,346.37 103.50,348.50 C104.20,350.98 104.90,353.76 105.60,354.40 C106.07,354.82 106.53,354.93 107.00,355.20 L107.00,355.40 L81.50,355.40 Z" fill="#777777"/>
<path d="M81.50,355.20 C83.67,354.97 85.83,354.87 88.00,354.50 C90.33,354.10 92.67,353.15 95.00,351.50 C96.27,350.61 97.53,348.77 98.80,345.80 C100.10,342.75 101.40,332.01 102.70,324.60 C103.67,319.09 104.63,309.80 105.60,307.30 C106.57,304.80 107.53,302.50 108.50,302.50 C109.43,302.50 110.37,306.13 111.30,309.20 C112.27,312.38 113.23,320.19 114.20,324.60 C115.17,329.01 116.13,333.83 117.10,336.20 C118.40,339.39 119.70,342.90 121.00,342.90 C121.83,342.90 122.67,342.72 123.50,342.50 C124.27,342.30 125.03,341.00 125.80,341.00 C127.07,341.00 128.33,343.72 129.60,344.80 C130.90,345.91 132.20,346.60 133.50,347.70 C135.10,349.06 136.70,351.40 138.30,352.50 C139.90,353.60 141.50,354.86 143.10,355.00 C145.40,355.19 147.70,355.30 150.00,355.30 C155.00,355.30 160.00,355.30 165.00,355.30" fill="none" stroke="#1a1a1a" stroke-width="1.1" stroke-linejoin="round"/>
<path d="M182.70,353.50 C183.47,352.33 184.23,351.44 185.00,350.00 C185.83,348.43 186.67,346.75 187.50,343.80 C188.17,341.44 188.83,336.37 189.50,332.00 C190.10,328.07 190.70,323.16 191.30,318.80 C191.80,315.17 192.30,310.35 192.80,308.00 C193.27,305.81 193.73,303.10 194.20,303.10 C194.67,303.10 195.13,307.76 195.60,311.00 C196.10,314.47 196.60,320.67 197.10,324.60 C197.60,328.53 198.10,331.71 198.60,335.00 C199.07,338.08 199.53,341.03 200.00,343.80 C200.63,347.56 201.27,353.23 201.90,354.40 C202.27,355.08 202.63,355.27 203.00,355.70 L203.00,355.90 L182.70,355.90 Z" fill="#777777"/>
<path d="M200.00,354.40 C201.93,352.80 203.87,352.02 205.80,349.60 C207.40,347.60 209.00,342.40 210.60,338.00 C212.20,333.60 213.80,327.48 215.40,322.70 C217.00,317.92 218.60,312.16 220.20,309.20 C221.67,306.49 223.13,303.10 224.60,303.10 C226.00,303.10 227.40,307.88 228.80,311.20 C230.43,315.07 232.07,321.33 233.70,326.50 C235.30,331.56 236.90,338.33 238.50,341.90 C240.40,346.13 242.30,349.81 244.20,351.50 C246.13,353.22 248.07,354.76 250.00,355.00 C253.67,355.46 257.33,355.47 261.00,355.70" fill="none" stroke="#1a1a1a" stroke-width="1.1" stroke-linejoin="round"/>
<path d="M277.00,351.50 C278.20,346.40 279.40,342.89 280.60,336.20 C281.23,332.67 281.87,326.49 282.50,322.00 C283.13,317.51 283.77,311.46 284.40,309.20 C285.37,305.76 286.33,302.50 287.30,302.50 C288.27,302.50 289.23,309.60 290.20,315.00 C291.17,320.40 292.13,333.17 293.10,338.00 C294.37,344.32 295.63,349.52 296.90,351.50 C298.20,353.53 299.50,354.58 300.80,355.40 C301.20,355.65 301.60,355.80 302.00,356.00 L302.00,356.20 L277.00,356.20 Z" fill="#777777"/>
<path d="M298.00,355.80 C299.67,355.70 301.33,355.67 303.00,355.50 C304.83,355.31 306.67,354.63 308.50,353.50 C310.40,352.33 312.30,347.24 314.20,341.90 C315.80,337.40 317.40,327.44 319.00,320.80 C320.30,315.40 321.60,307.42 322.90,305.40 C323.87,303.90 324.83,302.50 325.80,302.50 C326.77,302.50 327.73,304.83 328.70,307.30 C329.63,309.68 330.57,317.61 331.50,322.70 C332.80,329.79 334.10,339.30 335.40,343.80 C336.67,348.19 337.93,352.37 339.20,353.50 C340.50,354.66 341.80,355.55 343.10,355.60 C347.07,355.75 351.03,355.73 355.00,355.80" fill="none" stroke="#1a1a1a" stroke-width="1.1" stroke-linejoin="round"/>
<path d="M397.40,354.00 C397.77,353.13 398.13,352.92 398.50,351.40 C398.83,350.02 399.17,340.71 399.50,336.00 C399.87,330.82 400.23,326.86 400.60,321.70 C400.90,317.48 401.20,310.43 401.50,308.00 C401.90,304.77 402.30,301.60 402.70,301.60 C403.23,301.60 403.77,305.00 404.30,305.00 C404.83,305.00 405.37,301.60 405.90,301.60 C406.43,301.60 406.97,306.65 407.50,310.00 C408.00,313.14 408.50,318.17 409.00,321.70 C409.53,325.47 410.07,328.84 410.60,332.00 C411.13,335.16 411.67,338.72 412.20,340.80 C412.90,343.53 413.60,345.28 414.30,347.00 C415.00,348.72 415.70,350.75 416.40,351.40 C418.17,353.03 419.93,353.27 421.70,354.20 L421.70,354.50 L397.40,354.50 Z" fill="#777777"/>
<path d="M397.40,353.50 C399.17,352.80 400.93,352.54 402.70,351.40 C404.10,350.50 405.50,347.41 406.90,345.00 C408.33,342.53 409.77,340.13 411.20,336.50 C412.23,333.88 413.27,330.84 414.30,326.00 C415.00,322.72 415.70,313.72 416.40,311.20 C417.13,308.56 417.87,307.71 418.60,305.90 C419.30,304.17 420.00,300.60 420.70,300.60 C421.40,300.60 422.10,304.27 422.80,306.90 C423.50,309.53 424.20,313.89 424.90,317.50 C425.97,323.00 427.03,330.45 428.10,334.40 C429.50,339.58 430.90,344.41 432.30,346.10 C433.53,347.59 434.77,348.49 436.00,349.00 C437.60,349.66 439.20,349.94 440.80,350.30 C442.87,350.77 444.93,351.17 447.00,351.50 C449.17,351.85 451.33,352.20 453.50,352.40 C455.33,352.57 457.17,352.80 459.00,352.80 C460.67,352.80 462.33,352.00 464.00,352.00 C465.67,352.00 467.33,352.95 469.00,353.30 C470.87,353.70 472.73,354.24 474.60,354.30 C479.40,354.44 484.20,354.43 489.00,354.50" fill="none" stroke="#1a1a1a" stroke-width="1.1" stroke-linejoin="round"/>
<line x1="71.5" y1="408.5" x2="152.2" y2="408.5" stroke="#999" stroke-width="1"/>
<line x1="71.5" y1="468.4" x2="152.2" y2="468.4" stroke="#999" stroke-width="1"/>
<line x1="71.5" y1="408.5" x2="71.5" y2="468.4" stroke="#999" stroke-width="1"/>
<line x1="152.2" y1="408.5" x2="152.2" y2="468.4" stroke="#999" stroke-width="1"/>
<line x1="187.3" y1="408.1" x2="268.5" y2="408.1" stroke="#999" stroke-width="1"/>
<line x1="187.3" y1="468.4" x2="268.5" y2="468.4" stroke="#999" stroke-width="1"/>
<line x1="187.3" y1="408.1" x2="187.3" y2="468.4" stroke="#999" stroke-width="1"/>
<line x1="268.5" y1="408.1" x2="268.5" y2="468.4" stroke="#999" stroke-width="1"/>
<line x1="307.5" y1="408.1" x2="391.5" y2="408.1" stroke="#8c8c8c" stroke-width="1.8"/>
<line x1="307.5" y1="408.1" x2="307.5" y2="468.3" stroke="#aaa" stroke-width="1"/>
<line x1="307.5" y1="468.3" x2="391.5" y2="468.3" stroke="#888" stroke-width="1"/>
<line x1="433" y1="407.7" x2="519.2" y2="407.7" stroke="#999" stroke-width="1"/>
<line x1="433" y1="470" x2="519.2" y2="470" stroke="#999" stroke-width="1"/>
<line x1="433" y1="407.7" x2="433" y2="470" stroke="#999" stroke-width="1"/>
<line x1="519.2" y1="407.7" x2="519.2" y2="470" stroke="#999" stroke-width="1"/>
<path d="M90.00,468.20 C90.33,467.30 90.67,466.63 91.00,465.50 C91.77,462.90 92.53,458.02 93.30,453.80 C94.07,449.58 94.83,445.22 95.60,440.00 C96.20,435.91 96.80,430.13 97.40,426.00 C97.97,422.10 98.53,417.11 99.10,415.50 C99.87,413.32 100.63,411.40 101.40,411.40 C101.73,411.40 102.07,412.01 102.40,413.00 C102.70,413.89 103.00,422.95 103.30,428.00 C103.63,433.61 103.97,440.09 104.30,445.00 C104.63,449.91 104.97,455.03 105.30,458.00 C105.70,461.56 106.10,464.70 106.50,466.00 C106.83,467.09 107.17,467.47 107.50,468.20 L107.50,468.30 L90.00,468.30 Z" fill="#a4a4a4"/>
<path d="M71.50,468.20 C75.67,468.07 79.83,468.10 84.00,467.80 C84.93,467.73 85.87,466.60 86.80,466.60 C87.53,466.60 88.27,467.48 89.00,467.60 C89.67,467.71 90.33,467.73 91.00,467.80" fill="none" stroke="#1a1a1a" stroke-width="1.2" stroke-linejoin="round"/>
<path d="M101.60,411.60 C101.87,411.73 102.13,411.76 102.40,412.00 C102.87,412.41 103.33,422.91 103.80,428.00 C104.37,434.18 104.93,440.43 105.50,445.70 C106.10,451.28 106.70,456.98 107.30,460.80 C107.67,463.13 108.03,466.06 108.40,466.60 C108.93,467.39 109.47,467.90 110.00,467.90 C111.00,467.90 112.00,467.90 113.00,467.90 C113.77,467.90 114.53,467.20 115.30,467.20 C116.20,467.20 117.10,467.99 118.00,468.00 C129.33,468.18 140.67,468.13 152.00,468.20" fill="none" stroke="#1a1a1a" stroke-width="1.3" stroke-linejoin="round"/>
<path d="M209.50,468.20 C209.83,467.30 210.17,466.80 210.50,465.50 C211.07,463.29 211.63,456.55 212.20,451.50 C212.80,446.15 213.40,440.90 214.00,434.00 C214.37,429.78 214.73,421.32 215.10,419.00 C215.70,415.20 216.30,412.00 216.90,412.00 C217.47,412.00 218.03,417.39 218.60,422.40 C219.00,425.94 219.40,434.60 219.80,440.00 C220.17,444.95 220.53,450.58 220.90,453.80 C221.50,459.07 222.10,463.98 222.70,465.50 C223.27,466.94 223.83,467.30 224.40,468.20 L224.40,468.30 L209.50,468.30 Z" fill="#a4a4a4"/>
<path d="M187.30,468.20 C193.20,468.13 199.10,468.13 205.00,468.00 C206.33,467.97 207.67,467.87 209.00,467.80" fill="none" stroke="#1a1a1a" stroke-width="1.2" stroke-linejoin="round"/>
<path d="M216.60,411.80 C216.87,412.03 217.13,412.12 217.40,412.50 C218.00,413.35 218.60,420.22 219.20,426.00 C219.57,429.53 219.93,436.23 220.30,440.00 C220.70,444.11 221.10,449.32 221.50,450.30 C222.27,452.18 223.03,452.84 223.80,453.30 C224.20,453.54 224.60,453.52 225.00,453.80 C225.57,454.20 226.13,458.03 226.70,459.70 C227.47,461.96 228.23,464.43 229.00,465.50 C229.80,466.61 230.60,467.67 231.40,467.80 C232.60,467.99 233.80,468.09 235.00,468.10 C246.17,468.19 257.33,468.17 268.50,468.20" fill="none" stroke="#1a1a1a" stroke-width="1.3" stroke-linejoin="round"/>
<path d="M329.70,468.00 C330.87,465.03 332.03,463.87 333.20,459.10 C334.03,455.69 334.87,442.98 335.70,436.60 C336.57,429.96 337.43,423.39 338.30,419.30 C339.00,416.00 339.70,411.50 340.40,411.50 C341.17,411.50 341.93,421.63 342.70,428.00 C343.57,435.20 344.43,448.95 345.30,453.90 C346.17,458.85 347.03,463.23 347.90,464.30 C348.93,465.57 349.97,466.03 351.00,466.50 C352.57,467.21 354.13,467.50 355.70,468.00 L355.70,468.20 L329.70,468.20 Z" fill="#a4a4a4"/>
<path d="M307.50,468.00 C314.33,467.80 321.17,467.80 328.00,467.40 C330.30,467.27 332.60,467.00 334.90,466.00 C335.77,465.62 336.63,462.62 337.50,459.10 C338.37,455.58 339.23,442.55 340.10,436.60 C340.80,431.79 341.50,429.05 342.20,424.50 C342.63,421.68 343.07,416.62 343.50,415.00 C343.97,413.25 344.43,411.50 344.90,411.50 C345.30,411.50 345.70,415.08 346.10,417.60 C346.70,421.38 347.30,428.17 347.90,433.20 C348.47,437.95 349.03,444.65 349.60,447.00 C350.47,450.59 351.33,452.35 352.20,453.90 C353.07,455.45 353.93,457.40 354.80,457.40 C355.67,457.40 356.53,455.22 357.40,453.90 C358.53,452.18 359.67,449.09 360.80,447.90 C361.97,446.68 363.13,446.43 364.30,445.30 C365.17,444.46 366.03,441.80 366.90,441.80 C367.77,441.80 368.63,444.69 369.50,447.00 C370.37,449.31 371.23,454.86 372.10,457.40 C372.97,459.94 373.83,462.29 374.70,463.40 C375.87,464.89 377.03,465.96 378.20,466.40 C379.80,467.00 381.40,467.32 383.00,467.50 C384.27,467.65 385.53,467.80 386.80,467.80 C387.37,467.80 387.93,464.53 388.50,462.60 C389.10,460.56 389.70,455.70 390.30,455.70 C390.63,455.70 390.97,458.57 391.30,460.00" fill="none" stroke="#1a1a1a" stroke-width="1.1" stroke-linejoin="round"/>
<path d="M459.00,469.50 C459.87,466.47 460.73,464.69 461.60,460.40 C462.50,455.95 463.40,445.90 464.30,437.40 C464.87,432.05 465.43,423.24 466.00,419.70 C466.60,415.95 467.20,411.70 467.80,411.70 C468.70,411.70 469.60,422.13 470.50,428.50 C471.37,434.63 472.23,444.69 473.10,449.80 C474.00,455.11 474.90,460.30 475.80,462.20 C476.87,464.45 477.93,465.74 479.00,466.50 C480.27,467.40 481.53,467.77 482.80,468.30 C483.87,468.75 484.93,469.10 486.00,469.50 L486.00,469.70 L459.00,469.70 Z" fill="#a4a4a4"/>
<path d="M433.00,469.00 C441.37,468.97 449.73,468.99 458.10,468.90 C459.57,468.88 461.03,467.56 462.50,465.70 C463.67,464.22 464.83,457.83 466.00,451.50 C466.77,447.34 467.53,439.16 468.30,433.80 C469.03,428.67 469.77,421.26 470.50,419.70 C471.20,418.21 471.90,417.00 472.60,417.00 C473.37,417.00 474.13,419.11 474.90,421.50 C475.50,423.37 476.10,429.90 476.70,433.80 C477.57,439.43 478.43,447.21 479.30,449.80 C480.20,452.49 481.10,453.82 482.00,455.10 C482.77,456.19 483.53,457.70 484.30,457.70 C485.00,457.70 485.70,455.45 486.40,453.30 C487.27,450.64 488.13,444.03 489.00,437.40 C489.60,432.81 490.20,423.08 490.80,419.70 C491.40,416.32 492.00,412.60 492.60,412.60 C493.00,412.60 493.40,416.20 493.80,416.20 C494.27,416.20 494.73,411.70 495.20,411.70 C495.80,411.70 496.40,417.46 497.00,421.50 C497.60,425.54 498.20,432.81 498.80,437.40 C499.50,442.76 500.20,448.52 500.90,451.50 C501.67,454.76 502.43,456.38 503.20,458.60 C504.07,461.11 504.93,464.17 505.80,465.70 C506.53,466.99 507.27,468.35 508.00,468.60 C509.07,468.97 510.13,469.12 511.20,469.20 C512.67,469.31 514.13,469.33 515.60,469.40" fill="none" stroke="#1a1a1a" stroke-width="1.3" stroke-linejoin="round"/>
<path d="M515.50,469.40 C515.93,469.10 516.37,469.09 516.80,468.50 C517.07,468.14 517.33,464.52 517.60,462.00 C517.87,459.48 518.13,455.00 518.40,453.00 C518.70,450.75 519.00,449.67 519.30,448.00" fill="none" stroke="#1a1a1a" stroke-width="1.5" stroke-linejoin="round"/>
<line x1="73.8" y1="508.7" x2="253.2" y2="508.7" stroke="#888" stroke-width="1"/>
<line x1="73.8" y1="574.2" x2="253.2" y2="574.2" stroke="#888" stroke-width="1"/>
<line x1="73.8" y1="508.7" x2="73.8" y2="574.2" stroke="#888" stroke-width="1"/>
<line x1="253.2" y1="508.7" x2="253.2" y2="574.2" stroke="#888" stroke-width="1"/>
<path d="M74.20,509.00 C74.73,509.20 75.27,509.26 75.80,509.60 C76.77,510.21 77.73,517.28 78.70,521.20 C79.63,524.98 80.57,529.47 81.50,532.70 C82.80,537.20 84.10,541.08 85.40,544.20 C86.67,547.24 87.93,550.18 89.20,551.90 C90.80,554.07 92.40,554.82 94.00,556.70 C95.60,558.58 97.20,561.65 98.80,563.50 C100.43,565.39 102.07,567.00 103.70,568.30 C105.30,569.57 106.90,570.69 108.50,571.50 C110.40,572.46 112.30,573.03 114.20,573.80 L114.20,574.00 L74.20,574.00 Z" fill="#e0e0e0" stroke="#888" stroke-width="0.9"/>
<path d="M74.00,573.00 C79.33,573.07 84.67,573.20 90.00,573.20 C96.17,573.20 102.33,573.15 108.50,573.00 C111.07,572.94 113.63,572.12 116.20,571.20 C118.10,570.52 120.00,569.03 121.90,567.30 C122.93,566.36 123.97,564.79 125.00,563.40 C125.90,562.19 126.80,560.93 127.70,559.50 C128.73,557.86 129.77,555.97 130.80,554.00 C131.53,552.60 132.27,550.97 133.00,549.50 C133.80,547.90 134.60,546.53 135.40,544.80 C136.20,543.07 137.00,540.97 137.80,539.00 C138.57,537.11 139.33,535.46 140.10,533.20 C140.87,530.94 141.63,528.13 142.40,525.00 C142.97,522.69 143.53,518.55 144.10,517.00 C144.50,515.90 144.90,514.60 145.30,514.60 C145.70,514.60 146.10,523.00 146.50,523.00 C146.87,523.00 147.23,514.56 147.60,514.00 C148.00,513.39 148.40,513.00 148.80,513.00 C149.20,513.00 149.60,523.00 150.00,523.00 C150.33,523.00 150.67,516.40 151.00,516.40 C151.43,516.40 151.87,517.93 152.30,519.30 C152.67,520.46 153.03,523.42 153.40,525.00 C154.17,528.31 154.93,530.35 155.70,533.20 C156.20,535.06 156.70,537.00 157.20,539.00 C157.67,540.87 158.13,542.94 158.60,544.80 C159.40,548.00 160.20,551.60 161.00,554.00 C162.13,557.40 163.27,559.97 164.40,562.20 C165.57,564.49 166.73,566.71 167.90,568.00 C169.07,569.29 170.23,570.38 171.40,570.90 C172.60,571.44 173.80,571.84 175.00,572.00 C178.73,572.48 182.47,572.60 186.20,572.80 C190.80,573.05 195.40,573.23 200.00,573.40 C204.00,573.55 208.00,573.67 212.00,573.80" fill="none" stroke="#1a1a1a" stroke-width="1.9" stroke-linejoin="round"/>
<line x1="88.7" y1="520.5" x2="94" y2="520.5" stroke="#111" stroke-width="1.6"/>
<path d="M80,520.5 L89.2,516.3 L89.2,524.7 Z" fill="#111"/>
<line x1="161.5" y1="520.8" x2="166" y2="520.8" stroke="#111" stroke-width="1.6"/>
<path d="M153,520.8 L162,516.5999999999999 L162,525.0 Z" fill="#111"/>
<line x1="330.2" y1="508.2" x2="512.7" y2="508.2" stroke="#888" stroke-width="1"/>
<line x1="330.2" y1="573.8" x2="512.7" y2="573.8" stroke="#888" stroke-width="1"/>
<line x1="330.2" y1="508.2" x2="330.2" y2="573.8" stroke="#888" stroke-width="1"/>
<line x1="512.7" y1="508.2" x2="512.7" y2="573.8" stroke="#888" stroke-width="1"/>
<path d="M331.00,509.00 C332.33,512.67 333.67,515.18 335.00,520.00 C335.83,523.02 336.67,528.71 337.50,532.40 C338.33,536.09 339.17,539.89 340.00,542.40 C341.23,546.11 342.47,549.31 343.70,551.10 C345.77,554.10 347.83,555.47 349.90,557.30 C352.00,559.16 354.10,560.62 356.20,562.30 C358.27,563.95 360.33,566.00 362.40,567.30 C364.27,568.47 366.13,569.53 368.00,570.20 C370.33,571.04 372.67,571.73 375.00,572.10 C378.33,572.64 381.67,572.83 385.00,573.20 L385.00,573.60 L331.00,573.60 Z" fill="#e0e0e0" stroke="#888" stroke-width="0.9"/>
<line x1="331.3" y1="508.7" x2="331.3" y2="563" stroke="#111" stroke-width="2"/>
<path d="M331.50,563.00 C332.67,561.53 333.83,560.72 335.00,558.60 C335.83,557.09 336.67,553.79 337.50,551.10 C338.33,548.41 339.17,545.80 340.00,542.40 C340.60,539.95 341.20,536.31 341.80,533.70 C342.43,530.95 343.07,528.82 343.70,526.20 C344.27,523.85 344.83,521.40 345.40,518.80 C345.77,517.12 346.13,513.87 346.50,513.50 C347.00,513.00 347.50,512.70 348.00,512.70 C348.67,512.70 349.33,513.00 350.00,513.00 C350.67,513.00 351.33,512.30 352.00,512.30 C352.60,512.30 353.20,512.30 353.80,512.30 C354.33,512.30 354.87,518.61 355.40,518.80 C356.17,519.07 356.93,519.04 357.70,519.20 C358.20,519.31 358.70,519.36 359.20,519.60 C359.63,519.81 360.07,521.32 360.50,522.50 C360.97,523.77 361.43,527.35 361.90,527.40 C362.53,527.47 363.17,527.44 363.80,527.50 C364.20,527.54 364.60,527.79 365.00,528.00 C365.83,528.44 366.67,530.00 367.50,530.00 C368.13,530.00 368.77,527.60 369.40,527.60 C370.00,527.60 370.60,533.01 371.20,533.70 C371.83,534.43 372.47,534.36 373.10,535.00 C373.73,535.64 374.37,537.04 375.00,538.70 C375.40,539.75 375.80,542.23 376.20,543.20 C377.03,545.22 377.87,546.14 378.70,547.40 C379.93,549.26 381.17,550.58 382.40,552.40 C383.67,554.27 384.93,557.01 386.20,558.60 C387.87,560.69 389.53,562.11 391.20,563.60 C393.27,565.45 395.33,567.49 397.40,568.60 C399.47,569.71 401.53,570.39 403.60,571.10 C405.70,571.82 407.80,572.73 409.90,573.00 C411.93,573.26 413.97,573.46 416.00,573.50 C419.00,573.56 422.00,573.57 425.00,573.60" fill="none" stroke="#1a1a1a" stroke-width="2" stroke-linejoin="round"/>
<path d="M331.50,563.00 C332.67,563.40 333.83,564.20 335.00,564.20 C336.23,564.20 337.47,563.60 338.70,563.60 C339.53,563.60 340.37,564.26 341.20,564.80 C342.03,565.34 342.87,566.66 343.70,567.30 C344.73,568.09 345.77,568.90 346.80,569.20 C347.83,569.50 348.87,569.64 349.90,569.80 C351.57,570.05 353.23,570.40 354.90,570.40 C355.93,570.40 356.97,569.83 358.00,569.60 C358.67,569.45 359.33,569.41 360.00,569.20 C360.83,568.94 361.67,568.15 362.50,567.30 C363.73,566.04 364.97,563.32 366.20,561.10 C367.27,559.18 368.33,556.75 369.40,554.90 C370.20,553.51 371.00,552.83 371.80,551.10 C372.43,549.73 373.07,546.97 373.70,544.90 C374.33,542.83 374.97,540.70 375.60,538.70 C376.00,537.43 376.40,536.00 376.80,535.00 C377.63,532.93 378.47,531.67 379.30,530.00 C380.13,528.33 380.97,526.11 381.80,525.00 C382.63,523.89 383.47,523.33 384.30,522.50 C384.93,521.87 385.57,521.30 386.20,520.60 C387.03,519.68 387.87,519.12 388.70,517.50 C389.10,516.72 389.50,513.30 389.90,513.30 C390.53,513.30 391.17,517.50 391.80,517.50 C392.43,517.50 393.07,517.50 393.70,517.50 C394.10,517.50 394.50,513.30 394.90,513.30 C395.53,513.30 396.17,517.76 396.80,518.70 C397.43,519.64 398.07,520.34 398.70,520.60 C399.50,520.93 400.30,520.93 401.10,521.20 C401.93,521.48 402.77,521.76 403.60,522.50 C404.23,523.07 404.87,525.56 405.50,527.40 C406.13,529.24 406.77,531.56 407.40,533.70 C408.00,535.73 408.60,538.11 409.20,539.90 C409.83,541.79 410.47,543.68 411.10,544.90 C411.93,546.50 412.77,547.35 413.60,548.60 C414.43,549.85 415.27,550.96 416.10,552.40 C416.93,553.84 417.77,556.19 418.60,557.40 C419.23,558.32 419.87,558.91 420.50,559.60 C421.60,560.81 422.70,561.87 423.80,563.00" fill="none" stroke="#1a1a1a" stroke-width="2" stroke-linejoin="round"/>
<path d="M423.80,563.00 C424.87,563.83 425.93,565.01 427.00,565.50 C428.50,566.18 430.00,566.33 431.50,566.90 C432.67,567.35 433.83,568.18 435.00,568.60 C436.40,569.11 437.80,569.50 439.20,569.80 C440.80,570.14 442.40,570.24 444.00,570.60 C445.60,570.96 447.20,572.11 448.80,572.30 C450.20,572.46 451.60,572.49 453.00,572.60 C454.83,572.75 456.67,572.98 458.50,573.10 C461.00,573.27 463.50,573.42 466.00,573.50 C469.00,573.60 472.00,573.63 475.00,573.70" fill="none" stroke="#1a1a1a" stroke-width="1.3" stroke-linejoin="round"/>
<line x1="343.4" y1="514.7" x2="434.5" y2="514.7" stroke="#444" stroke-width="1.5"/>
<path d="M335.2,514.7 L343.9,510.50000000000006 L343.9,518.9000000000001 Z" fill="#111"/>
<line x1="379.8" y1="534.3" x2="430.5" y2="534.3" stroke="#444" stroke-width="1.5"/>
<path d="M372.4,534.3 L380.3,530.0999999999999 L380.3,538.5 Z" fill="#111"/>
<line x1="426.2" y1="556.3" x2="435.5" y2="556.3" stroke="#111" stroke-width="1.4"/>
<path d="M418.8,556.3 L426.7,552.0999999999999 L426.7,560.5 Z" fill="#111"/>
<line x1="72.4" y1="298.5" x2="74.2" y2="298.5" stroke="#9a9a9a" stroke-width="0.8"/>
<line x1="72.4" y1="312.8" x2="74.2" y2="312.8" stroke="#9a9a9a" stroke-width="0.8"/>
<line x1="72.4" y1="327.0" x2="74.2" y2="327.0" stroke="#9a9a9a" stroke-width="0.8"/>
<line x1="72.4" y1="341.2" x2="74.2" y2="341.2" stroke="#9a9a9a" stroke-width="0.8"/>
<line x1="72.4" y1="355.5" x2="74.2" y2="355.5" stroke="#9a9a9a" stroke-width="0.8"/>
<line x1="179.5" y1="299.5" x2="181.3" y2="299.5" stroke="#9a9a9a" stroke-width="0.8"/>
<line x1="179.5" y1="313.6" x2="181.3" y2="313.6" stroke="#9a9a9a" stroke-width="0.8"/>
<line x1="179.5" y1="327.8" x2="181.3" y2="327.8" stroke="#9a9a9a" stroke-width="0.8"/>
<line x1="179.5" y1="341.9" x2="181.3" y2="341.9" stroke="#9a9a9a" stroke-width="0.8"/>
<line x1="179.5" y1="356.0" x2="181.3" y2="356.0" stroke="#9a9a9a" stroke-width="0.8"/>
<line x1="275.0" y1="298.6" x2="276.8" y2="298.6" stroke="#9a9a9a" stroke-width="0.8"/>
<line x1="275.0" y1="313.0" x2="276.8" y2="313.0" stroke="#9a9a9a" stroke-width="0.8"/>
<line x1="275.0" y1="327.5" x2="276.8" y2="327.5" stroke="#9a9a9a" stroke-width="0.8"/>
<line x1="275.0" y1="341.9" x2="276.8" y2="341.9" stroke="#9a9a9a" stroke-width="0.8"/>
<line x1="275.0" y1="356.3" x2="276.8" y2="356.3" stroke="#9a9a9a" stroke-width="0.8"/>
<line x1="395.0" y1="297.4" x2="396.8" y2="297.4" stroke="#9a9a9a" stroke-width="0.8"/>
<line x1="395.0" y1="311.7" x2="396.8" y2="311.7" stroke="#9a9a9a" stroke-width="0.8"/>
<line x1="395.0" y1="325.9" x2="396.8" y2="325.9" stroke="#9a9a9a" stroke-width="0.8"/>
<line x1="395.0" y1="340.2" x2="396.8" y2="340.2" stroke="#9a9a9a" stroke-width="0.8"/>
<line x1="395.0" y1="354.5" x2="396.8" y2="354.5" stroke="#9a9a9a" stroke-width="0.8"/>
<line x1="69.7" y1="408.5" x2="71.5" y2="408.5" stroke="#9a9a9a" stroke-width="0.8"/>
<line x1="69.7" y1="420.5" x2="71.5" y2="420.5" stroke="#9a9a9a" stroke-width="0.8"/>
<line x1="69.7" y1="432.5" x2="71.5" y2="432.5" stroke="#9a9a9a" stroke-width="0.8"/>
<line x1="69.7" y1="444.4" x2="71.5" y2="444.4" stroke="#9a9a9a" stroke-width="0.8"/>
<line x1="69.7" y1="456.4" x2="71.5" y2="456.4" stroke="#9a9a9a" stroke-width="0.8"/>
<line x1="69.7" y1="468.4" x2="71.5" y2="468.4" stroke="#9a9a9a" stroke-width="0.8"/>
<line x1="185.5" y1="408.1" x2="187.3" y2="408.1" stroke="#9a9a9a" stroke-width="0.8"/>
<line x1="185.5" y1="420.2" x2="187.3" y2="420.2" stroke="#9a9a9a" stroke-width="0.8"/>
<line x1="185.5" y1="432.2" x2="187.3" y2="432.2" stroke="#9a9a9a" stroke-width="0.8"/>
<line x1="185.5" y1="444.3" x2="187.3" y2="444.3" stroke="#9a9a9a" stroke-width="0.8"/>
<line x1="185.5" y1="456.3" x2="187.3" y2="456.3" stroke="#9a9a9a" stroke-width="0.8"/>
<line x1="185.5" y1="468.4" x2="187.3" y2="468.4" stroke="#9a9a9a" stroke-width="0.8"/>
<line x1="305.7" y1="408.1" x2="307.5" y2="408.1" stroke="#9a9a9a" stroke-width="0.8"/>
<line x1="305.7" y1="420.1" x2="307.5" y2="420.1" stroke="#9a9a9a" stroke-width="0.8"/>
<line x1="305.7" y1="432.2" x2="307.5" y2="432.2" stroke="#9a9a9a" stroke-width="0.8"/>
<line x1="305.7" y1="444.2" x2="307.5" y2="444.2" stroke="#9a9a9a" stroke-width="0.8"/>
<line x1="305.7" y1="456.3" x2="307.5" y2="456.3" stroke="#9a9a9a" stroke-width="0.8"/>
<line x1="305.7" y1="468.3" x2="307.5" y2="468.3" stroke="#9a9a9a" stroke-width="0.8"/>
<line x1="431.2" y1="407.7" x2="433.0" y2="407.7" stroke="#9a9a9a" stroke-width="0.8"/>
<line x1="431.2" y1="420.2" x2="433.0" y2="420.2" stroke="#9a9a9a" stroke-width="0.8"/>
<line x1="431.2" y1="432.6" x2="433.0" y2="432.6" stroke="#9a9a9a" stroke-width="0.8"/>
<line x1="431.2" y1="445.1" x2="433.0" y2="445.1" stroke="#9a9a9a" stroke-width="0.8"/>
<line x1="431.2" y1="457.5" x2="433.0" y2="457.5" stroke="#9a9a9a" stroke-width="0.8"/>
<line x1="431.2" y1="470.0" x2="433.0" y2="470.0" stroke="#9a9a9a" stroke-width="0.8"/>
<line x1="71.8" y1="574.2" x2="73.8" y2="574.2" stroke="#9a9a9a" stroke-width="0.8"/>
<line x1="71.8" y1="569.3" x2="73.8" y2="569.3" stroke="#9a9a9a" stroke-width="0.8"/>
<line x1="71.8" y1="566.4" x2="73.8" y2="566.4" stroke="#9a9a9a" stroke-width="0.8"/>
<line x1="71.8" y1="564.3" x2="73.8" y2="564.3" stroke="#9a9a9a" stroke-width="0.8"/>
<line x1="71.8" y1="562.8" x2="73.8" y2="562.8" stroke="#9a9a9a" stroke-width="0.8"/>
<line x1="71.8" y1="561.5" x2="73.8" y2="561.5" stroke="#9a9a9a" stroke-width="0.8"/>
<line x1="71.8" y1="560.4" x2="73.8" y2="560.4" stroke="#9a9a9a" stroke-width="0.8"/>
<line x1="71.8" y1="559.4" x2="73.8" y2="559.4" stroke="#9a9a9a" stroke-width="0.8"/>
<line x1="71.8" y1="558.6" x2="73.8" y2="558.6" stroke="#9a9a9a" stroke-width="0.8"/>
<line x1="71.8" y1="557.8" x2="73.8" y2="557.8" stroke="#9a9a9a" stroke-width="0.8"/>
<line x1="71.8" y1="552.9" x2="73.8" y2="552.9" stroke="#9a9a9a" stroke-width="0.8"/>
<line x1="71.8" y1="550.0" x2="73.8" y2="550.0" stroke="#9a9a9a" stroke-width="0.8"/>
<line x1="71.8" y1="548.0" x2="73.8" y2="548.0" stroke="#9a9a9a" stroke-width="0.8"/>
<line x1="71.8" y1="546.4" x2="73.8" y2="546.4" stroke="#9a9a9a" stroke-width="0.8"/>
<line x1="71.8" y1="545.1" x2="73.8" y2="545.1" stroke="#9a9a9a" stroke-width="0.8"/>
<line x1="71.8" y1="544.0" x2="73.8" y2="544.0" stroke="#9a9a9a" stroke-width="0.8"/>
<line x1="71.8" y1="543.0" x2="73.8" y2="543.0" stroke="#9a9a9a" stroke-width="0.8"/>
<line x1="71.8" y1="542.2" x2="73.8" y2="542.2" stroke="#9a9a9a" stroke-width="0.8"/>
<line x1="71.8" y1="541.5" x2="73.8" y2="541.5" stroke="#9a9a9a" stroke-width="0.8"/>
<line x1="71.8" y1="536.5" x2="73.8" y2="536.5" stroke="#9a9a9a" stroke-width="0.8"/>
<line x1="71.8" y1="533.6" x2="73.8" y2="533.6" stroke="#9a9a9a" stroke-width="0.8"/>
<line x1="71.8" y1="531.6" x2="73.8" y2="531.6" stroke="#9a9a9a" stroke-width="0.8"/>
<line x1="71.8" y1="530.0" x2="73.8" y2="530.0" stroke="#9a9a9a" stroke-width="0.8"/>
<line x1="71.8" y1="528.7" x2="73.8" y2="528.7" stroke="#9a9a9a" stroke-width="0.8"/>
<line x1="71.8" y1="527.6" x2="73.8" y2="527.6" stroke="#9a9a9a" stroke-width="0.8"/>
<line x1="71.8" y1="526.7" x2="73.8" y2="526.7" stroke="#9a9a9a" stroke-width="0.8"/>
<line x1="71.8" y1="525.8" x2="73.8" y2="525.8" stroke="#9a9a9a" stroke-width="0.8"/>
<line x1="71.8" y1="525.1" x2="73.8" y2="525.1" stroke="#9a9a9a" stroke-width="0.8"/>
<line x1="71.8" y1="520.1" x2="73.8" y2="520.1" stroke="#9a9a9a" stroke-width="0.8"/>
<line x1="71.8" y1="517.3" x2="73.8" y2="517.3" stroke="#9a9a9a" stroke-width="0.8"/>
<line x1="71.8" y1="515.2" x2="73.8" y2="515.2" stroke="#9a9a9a" stroke-width="0.8"/>
<line x1="71.8" y1="513.6" x2="73.8" y2="513.6" stroke="#9a9a9a" stroke-width="0.8"/>
<line x1="71.8" y1="512.3" x2="73.8" y2="512.3" stroke="#9a9a9a" stroke-width="0.8"/>
<line x1="71.8" y1="511.2" x2="73.8" y2="511.2" stroke="#9a9a9a" stroke-width="0.8"/>
<line x1="71.8" y1="510.3" x2="73.8" y2="510.3" stroke="#9a9a9a" stroke-width="0.8"/>
<line x1="71.8" y1="509.4" x2="73.8" y2="509.4" stroke="#9a9a9a" stroke-width="0.8"/>
<line x1="71.8" y1="508.7" x2="73.8" y2="508.7" stroke="#9a9a9a" stroke-width="0.8"/>
<line x1="328.2" y1="573.8" x2="330.2" y2="573.8" stroke="#9a9a9a" stroke-width="0.8"/>
<line x1="328.2" y1="568.9" x2="330.2" y2="568.9" stroke="#9a9a9a" stroke-width="0.8"/>
<line x1="328.2" y1="566.0" x2="330.2" y2="566.0" stroke="#9a9a9a" stroke-width="0.8"/>
<line x1="328.2" y1="563.9" x2="330.2" y2="563.9" stroke="#9a9a9a" stroke-width="0.8"/>
<line x1="328.2" y1="562.3" x2="330.2" y2="562.3" stroke="#9a9a9a" stroke-width="0.8"/>
<line x1="328.2" y1="561.0" x2="330.2" y2="561.0" stroke="#9a9a9a" stroke-width="0.8"/>
<line x1="328.2" y1="559.9" x2="330.2" y2="559.9" stroke="#9a9a9a" stroke-width="0.8"/>
<line x1="328.2" y1="559.0" x2="330.2" y2="559.0" stroke="#9a9a9a" stroke-width="0.8"/>
<line x1="328.2" y1="558.2" x2="330.2" y2="558.2" stroke="#9a9a9a" stroke-width="0.8"/>
<line x1="328.2" y1="557.4" x2="330.2" y2="557.4" stroke="#9a9a9a" stroke-width="0.8"/>
<line x1="328.2" y1="552.5" x2="330.2" y2="552.5" stroke="#9a9a9a" stroke-width="0.8"/>
<line x1="328.2" y1="549.6" x2="330.2" y2="549.6" stroke="#9a9a9a" stroke-width="0.8"/>
<line x1="328.2" y1="547.5" x2="330.2" y2="547.5" stroke="#9a9a9a" stroke-width="0.8"/>
<line x1="328.2" y1="545.9" x2="330.2" y2="545.9" stroke="#9a9a9a" stroke-width="0.8"/>
<line x1="328.2" y1="544.6" x2="330.2" y2="544.6" stroke="#9a9a9a" stroke-width="0.8"/>
<line x1="328.2" y1="543.5" x2="330.2" y2="543.5" stroke="#9a9a9a" stroke-width="0.8"/>
<line x1="328.2" y1="542.6" x2="330.2" y2="542.6" stroke="#9a9a9a" stroke-width="0.8"/>
<line x1="328.2" y1="541.8" x2="330.2" y2="541.8" stroke="#9a9a9a" stroke-width="0.8"/>
<line x1="328.2" y1="541.0" x2="330.2" y2="541.0" stroke="#9a9a9a" stroke-width="0.8"/>
<line x1="328.2" y1="536.1" x2="330.2" y2="536.1" stroke="#9a9a9a" stroke-width="0.8"/>
<line x1="328.2" y1="533.2" x2="330.2" y2="533.2" stroke="#9a9a9a" stroke-width="0.8"/>
<line x1="328.2" y1="531.1" x2="330.2" y2="531.1" stroke="#9a9a9a" stroke-width="0.8"/>
<line x1="328.2" y1="529.5" x2="330.2" y2="529.5" stroke="#9a9a9a" stroke-width="0.8"/>
<line x1="328.2" y1="528.2" x2="330.2" y2="528.2" stroke="#9a9a9a" stroke-width="0.8"/>
<line x1="328.2" y1="527.1" x2="330.2" y2="527.1" stroke="#9a9a9a" stroke-width="0.8"/>
<line x1="328.2" y1="526.2" x2="330.2" y2="526.2" stroke="#9a9a9a" stroke-width="0.8"/>
<line x1="328.2" y1="525.4" x2="330.2" y2="525.4" stroke="#9a9a9a" stroke-width="0.8"/>
<line x1="328.2" y1="524.6" x2="330.2" y2="524.6" stroke="#9a9a9a" stroke-width="0.8"/>
<line x1="328.2" y1="519.7" x2="330.2" y2="519.7" stroke="#9a9a9a" stroke-width="0.8"/>
<line x1="328.2" y1="516.8" x2="330.2" y2="516.8" stroke="#9a9a9a" stroke-width="0.8"/>
<line x1="328.2" y1="514.7" x2="330.2" y2="514.7" stroke="#9a9a9a" stroke-width="0.8"/>
<line x1="328.2" y1="513.1" x2="330.2" y2="513.1" stroke="#9a9a9a" stroke-width="0.8"/>
<line x1="328.2" y1="511.8" x2="330.2" y2="511.8" stroke="#9a9a9a" stroke-width="0.8"/>
<line x1="328.2" y1="510.7" x2="330.2" y2="510.7" stroke="#9a9a9a" stroke-width="0.8"/>
<line x1="328.2" y1="509.8" x2="330.2" y2="509.8" stroke="#9a9a9a" stroke-width="0.8"/>
<line x1="328.2" y1="509.0" x2="330.2" y2="509.0" stroke="#9a9a9a" stroke-width="0.8"/>
<line x1="328.2" y1="508.2" x2="330.2" y2="508.2" stroke="#9a9a9a" stroke-width="0.8"/>
<line x1="74.0" y1="574.2" x2="74.0" y2="576.0" stroke="#9a9a9a" stroke-width="0.8"/>
<line x1="118.8" y1="574.2" x2="118.8" y2="576.0" stroke="#9a9a9a" stroke-width="0.8"/>
<line x1="163.5" y1="574.2" x2="163.5" y2="576.0" stroke="#9a9a9a" stroke-width="0.8"/>
<line x1="208.2" y1="574.2" x2="208.2" y2="576.0" stroke="#9a9a9a" stroke-width="0.8"/>
<line x1="253.0" y1="574.2" x2="253.0" y2="576.0" stroke="#9a9a9a" stroke-width="0.8"/>
<line x1="330.2" y1="573.8" x2="330.2" y2="575.6" stroke="#9a9a9a" stroke-width="0.8"/>
<line x1="375.8" y1="573.8" x2="375.8" y2="575.6" stroke="#9a9a9a" stroke-width="0.8"/>
<line x1="421.5" y1="573.8" x2="421.5" y2="575.6" stroke="#9a9a9a" stroke-width="0.8"/>
<line x1="467.1" y1="573.8" x2="467.1" y2="575.6" stroke="#9a9a9a" stroke-width="0.8"/>
<line x1="512.7" y1="573.8" x2="512.7" y2="575.6" stroke="#9a9a9a" stroke-width="0.8"/>
<text x="-0.08" y="17.30" font-size="25.40" textLength="17.41" lengthAdjust="spacingAndGlyphs" fill="#111" style="stroke-width:1.1px">A</text>
<text x="-1.01" y="293.65" font-size="23.50" textLength="16.55" lengthAdjust="spacingAndGlyphs" fill="#111" style="stroke-width:1.1px">B</text>
<text x="0.50" y="404.00" font-size="24.20" textLength="15.79" lengthAdjust="spacingAndGlyphs" fill="#111" style="stroke-width:1.1px">C</text>
<text x="-1.02" y="512.05" font-size="23.80" textLength="16.67" lengthAdjust="spacingAndGlyphs" fill="#111" style="stroke-width:1.1px">D</text>
<text x="0.38" y="49.30" font-size="13.08" textLength="54.66" lengthAdjust="spacingAndGlyphs" fill="#111">NKp44-Ig</text>
<text x="-0.18" y="111.60" font-size="13.08" textLength="57.95" lengthAdjust="spacingAndGlyphs" fill="#111">α-NKp44L</text>
<text x="6.77" y="190.30" font-size="13.08" textLength="54.97" lengthAdjust="spacingAndGlyphs" fill="#111">NKp44-Ig</text>
<text x="0.52" y="249.50" font-size="12.79" textLength="57.64" lengthAdjust="spacingAndGlyphs" fill="#111">α-NKp44L</text>
<text x="87.27" y="9.90" font-size="13.66" textLength="30.13" lengthAdjust="spacingAndGlyphs" fill="#111">K562</text>
<text x="154.27" y="9.60" font-size="13.66" textLength="45.77" lengthAdjust="spacingAndGlyphs" fill="#111">721.221</text>
<text x="235.22" y="9.00" font-size="13.37" textLength="35.63" lengthAdjust="spacingAndGlyphs" fill="#111">Jurkat</text>
<text x="320.64" y="9.90" font-size="13.37" textLength="30.31" lengthAdjust="spacingAndGlyphs" fill="#111">U937</text>
<text x="399.41" y="10.30" font-size="12.35" textLength="22.03" lengthAdjust="spacingAndGlyphs" fill="#111">Raji</text>
<text x="464.44" y="10.30" font-size="13.52" textLength="38.21" lengthAdjust="spacingAndGlyphs" fill="#111">PBMC</text>
<text x="83.07" y="146.00" font-size="12.94" textLength="30.64" lengthAdjust="spacingAndGlyphs" fill="#111">HeLa</text>
<text x="146.96" y="144.60" font-size="13.23" textLength="51.02" lengthAdjust="spacingAndGlyphs" fill="#111">MSkMec</text>
<text x="230.42" y="145.80" font-size="13.08" textLength="49.06" lengthAdjust="spacingAndGlyphs" fill="#111">1106mel</text>
<text x="313.95" y="146.00" font-size="13.23" textLength="50.17" lengthAdjust="spacingAndGlyphs" fill="#111">Mel1080</text>
<text x="384.09" y="147.50" font-size="13.23" textLength="49.85" lengthAdjust="spacingAndGlyphs" fill="#111">WM1361</text>
<text x="459.57" y="147.60" font-size="12.79" textLength="51.97" lengthAdjust="spacingAndGlyphs" fill="#111">HEK-293</text>
<text x="163.91" y="289.50" font-size="12.79" textLength="126.00" lengthAdjust="spacingAndGlyphs" fill="#111">Kidney cell carcinoma</text>
<text x="376.71" y="291.70" font-size="13.23" textLength="131.31" lengthAdjust="spacingAndGlyphs" fill="#111">Bladder cell carcinoma</text>
<text x="161.39" y="371.90" font-size="12.79" textLength="113.86" lengthAdjust="spacingAndGlyphs" fill="#111">NKp44L expression</text>
<text x="385.99" y="372.00" font-size="13.08" textLength="114.36" lengthAdjust="spacingAndGlyphs" fill="#111">NKp44L expression</text>
<text x="147.73" y="310.20" font-size="10.03" textLength="11.35" lengthAdjust="spacingAndGlyphs" fill="#111">#1</text>
<text x="244.10" y="311.20" font-size="10.03" textLength="13.27" lengthAdjust="spacingAndGlyphs" fill="#111">#2</text>
<text x="339.00" y="310.20" font-size="10.03" textLength="13.12" lengthAdjust="spacingAndGlyphs" fill="#111">#3</text>
<text x="104.11" y="404.40" font-size="13.08" textLength="15.93" lengthAdjust="spacingAndGlyphs" fill="#111">Ctl</text>
<text x="207.49" y="404.80" font-size="12.79" textLength="45.14" lengthAdjust="spacingAndGlyphs" fill="#111">Δ21spe</text>
<text x="337.67" y="405.40" font-size="13.08" textLength="28.66" lengthAdjust="spacingAndGlyphs" fill="#111">FL-A</text>
<text x="464.19" y="404.80" font-size="12.50" textLength="27.86" lengthAdjust="spacingAndGlyphs" fill="#111">FL-B</text>
<text x="239.69" y="484.60" font-size="12.79" textLength="114.36" lengthAdjust="spacingAndGlyphs" fill="#111">NKp44L expression</text>
<text x="99.32" y="522.80" font-size="9.30" textLength="25.92" lengthAdjust="spacingAndGlyphs" fill="#111">α-IgM</text>
<text x="172.14" y="522.80" font-size="9.16" textLength="43.94" lengthAdjust="spacingAndGlyphs" fill="#111">α-NKp44L</text>
<text x="446.73" y="518.70" font-size="9.01" textLength="24.55" lengthAdjust="spacingAndGlyphs" fill="#111">α-IgG</text>
<text x="446.83" y="533.90" font-size="8.87" textLength="44.55" lengthAdjust="spacingAndGlyphs" fill="#111">α-NKp44L</text>
<text x="446.79" y="544.20" font-size="9.30" textLength="51.16" lengthAdjust="spacingAndGlyphs" fill="#111">+ NKp44-Ig</text>
<text x="447.68" y="559.30" font-size="9.45" textLength="41.05" lengthAdjust="spacingAndGlyphs" fill="#111">NKp44-Ig</text>
</svg>
</body></html>
